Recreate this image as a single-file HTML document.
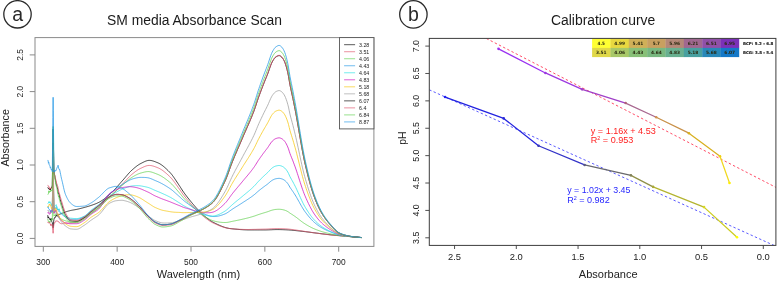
<!DOCTYPE html>
<html lang="en"><head><meta charset="utf-8"><title>Absorbance scan and calibration curve</title>
<style>html,body{margin:0;padding:0;background:#fff}body{width:777px;height:281px;overflow:hidden}</style></head>
<body>
<svg width="777" height="281" viewBox="0 0 777 281" style="display:block">
<rect x="0" y="0" width="777" height="281" fill="#ffffff"/>
<defs><clipPath id="ca"><rect x="35.0" y="37.6" width="338.9" height="208.8"/></clipPath><clipPath id="cb"><rect x="429.3" y="38.4" width="346.6" height="207"/></clipPath></defs>
<circle cx="17.5" cy="14.3" r="13.7" fill="none" stroke="#2a2a2a" stroke-width="1.3"/>
<text x="17.7" y="21.4" font-family="&quot;Liberation Sans&quot;, sans-serif" font-size="19.5" fill="#2a2a2a" text-anchor="middle">a</text>
<circle cx="413.4" cy="14.4" r="13.7" fill="none" stroke="#2a2a2a" stroke-width="1.3"/>
<text x="413.5" y="21.3" font-family="&quot;Liberation Sans&quot;, sans-serif" font-size="19.5" fill="#2a2a2a" text-anchor="middle">b</text>
<text x="107" y="25" font-family="&quot;Liberation Sans&quot;, sans-serif" font-size="14" fill="#1a1a1a" textLength="175" lengthAdjust="spacingAndGlyphs">SM media Absorbance Scan</text>
<text x="551" y="25" font-family="&quot;Liberation Sans&quot;, sans-serif" font-size="14" fill="#1a1a1a" textLength="104.2" lengthAdjust="spacingAndGlyphs">Calibration curve</text>
<g clip-path="url(#ca)">
<path d="M47.73,215.18 L48.10,218.25 L48.47,216.87 L48.84,217.81 L49.21,218.11 L49.58,218.34 L49.95,219.77 L50.32,219.29 L50.68,220.24 L51.05,218.35 L51.42,220.74 L51.79,221.66 L52.16,222.19 L52.31,222.64 L52.53,224.47 L52.90,226.75 L53.12,227.84 L53.27,226.66 L53.64,221.96 L53.93,219.43 L54.01,219.19 L54.38,217.73 L54.75,217.75 L55.12,217.81 L55.49,217.05 L55.85,216.06 L56.22,215.00 L56.59,216.05 L56.96,215.79 L57.33,214.81 L57.70,215.68 L58.07,215.08 L58.44,214.25 L58.81,214.28 L59.18,214.42 L59.55,214.27 L59.92,214.13 L60.29,213.99 L60.65,213.86 L61.02,213.72 L61.39,213.59 L61.76,213.44 L62.13,213.30 L62.50,213.14 L62.87,212.99 L63.24,212.83 L63.61,212.68 L63.98,212.53 L64.35,212.38 L64.72,212.24 L65.09,212.10 L65.45,211.98 L65.82,211.85 L66.19,211.73 L66.56,211.62 L66.93,211.50 L67.30,211.39 L67.67,211.28 L68.04,211.17 L68.41,211.07 L68.78,210.97 L69.15,210.87 L69.52,210.77 L69.89,210.68 L70.26,210.59 L70.62,210.51 L70.99,210.43 L71.36,210.35 L71.73,210.28 L72.10,210.21 L72.47,210.14 L72.84,210.07 L73.58,209.95 L74.32,209.82 L75.06,209.69 L75.79,209.56 L76.53,209.41 L77.27,209.25 L78.01,209.08 L78.75,208.91 L79.49,208.73 L80.22,208.54 L80.96,208.36 L81.70,208.16 L82.44,207.97 L83.18,207.77 L83.92,207.57 L84.66,207.37 L85.39,207.17 L86.13,206.96 L86.87,206.75 L87.61,206.54 L88.35,206.32 L89.09,206.09 L89.83,205.86 L90.56,205.62 L91.30,205.37 L92.04,205.12 L92.78,204.86 L93.52,204.60 L94.26,204.33 L95.00,204.05 L95.73,203.76 L96.47,203.46 L97.21,203.13 L97.95,202.79 L98.69,202.43 L99.43,202.05 L100.16,201.63 L100.90,201.19 L101.64,200.72 L102.38,200.24 L103.12,199.72 L103.86,199.19 L104.60,198.64 L105.33,198.07 L106.07,197.49 L106.81,196.89 L107.55,196.29 L108.29,195.67 L109.03,195.04 L109.77,194.40 L110.50,193.74 L111.24,193.03 L111.98,192.29 L112.72,191.52 L113.46,190.74 L114.20,189.96 L114.93,189.16 L115.67,188.36 L116.41,187.54 L117.15,186.71 L117.89,185.88 L118.63,185.03 L119.37,184.18 L120.10,183.33 L120.84,182.48 L121.58,181.64 L122.32,180.80 L123.06,179.97 L123.80,179.13 L124.53,178.27 L125.27,177.41 L126.01,176.53 L126.75,175.66 L127.49,174.80 L128.23,173.95 L128.97,173.12 L129.70,172.31 L130.44,171.54 L131.18,170.81 L131.92,170.13 L132.66,169.47 L133.40,168.83 L134.14,168.19 L134.87,167.57 L135.61,166.97 L136.35,166.39 L137.09,165.83 L137.83,165.30 L138.57,164.80 L139.31,164.34 L140.04,163.91 L140.78,163.52 L141.52,163.15 L142.26,162.77 L143.00,162.39 L143.74,162.02 L144.47,161.67 L145.21,161.34 L145.95,161.05 L146.69,160.80 L147.43,160.60 L148.17,160.45 L148.91,160.38 L149.64,160.38 L150.38,160.43 L151.12,160.53 L151.86,160.68 L152.60,160.87 L153.34,161.09 L154.07,161.33 L154.81,161.60 L155.55,161.89 L156.29,162.19 L157.03,162.49 L157.77,162.79 L158.51,163.12 L159.24,163.49 L159.98,163.90 L160.72,164.36 L161.46,164.85 L162.20,165.38 L162.94,165.94 L163.68,166.54 L164.41,167.16 L165.15,167.81 L165.89,168.48 L166.63,169.17 L167.37,169.88 L168.11,170.61 L168.84,171.35 L169.58,172.10 L170.32,172.87 L171.06,173.69 L171.80,174.59 L172.54,175.55 L173.28,176.56 L174.01,177.61 L174.75,178.70 L175.49,179.80 L176.23,180.92 L176.97,182.04 L177.71,183.16 L178.45,184.27 L179.18,185.36 L179.92,186.49 L180.66,187.64 L181.40,188.81 L182.14,189.96 L182.88,191.08 L183.62,192.15 L184.35,193.18 L185.09,194.19 L185.83,195.18 L186.57,196.15 L187.31,197.11 L188.05,198.05 L188.78,198.97 L189.52,199.89 L190.26,200.80 L191.00,201.70 L191.74,202.59 L192.48,203.48 L193.22,204.35 L193.95,205.22 L194.69,206.08 L195.43,206.93 L196.17,207.76 L196.91,208.57 L197.65,209.36 L198.38,210.14 L199.12,210.90 L199.86,211.65 L200.60,212.39 L201.34,213.12 L202.08,213.84 L202.82,214.54 L203.55,215.22 L204.29,215.87 L205.03,216.50 L205.77,217.11 L206.51,217.70 L207.25,218.28 L207.99,218.85 L208.72,219.41 L209.46,219.95 L210.20,220.47 L210.94,220.96 L211.68,221.43 L212.42,221.86 L213.16,222.25 L213.89,222.62 L214.63,222.99 L215.37,223.36 L216.11,223.72 L216.85,224.08 L217.59,224.43 L218.32,224.78 L219.06,225.11 L219.80,225.44 L220.54,225.76 L221.28,226.07 L222.02,226.37 L222.76,226.65 L223.49,226.92 L224.23,227.17 L224.97,227.41 L225.71,227.64 L226.45,227.84 L227.19,228.03 L227.93,228.19 L228.66,228.34 L229.40,228.46 L230.14,228.56 L230.88,228.65 L231.62,228.73 L232.36,228.82 L233.09,228.90 L233.83,228.98 L234.57,229.05 L235.31,229.13 L236.05,229.20 L236.79,229.27 L237.53,229.34 L238.26,229.40 L239.00,229.47 L239.74,229.52 L240.48,229.58 L241.22,229.63 L241.96,229.68 L242.69,229.73 L243.43,229.77 L244.17,229.80 L244.91,229.84 L245.65,229.87 L246.39,229.89 L247.13,229.91 L247.86,229.93 L248.60,229.94 L249.34,229.95 L250.08,229.95 L250.82,229.95 L251.56,229.95 L252.30,229.95 L253.03,229.95 L253.77,229.95 L254.51,229.95 L255.25,229.95 L255.99,229.95 L256.73,229.95 L257.47,229.95 L258.20,229.95 L258.94,229.95 L259.68,229.95 L260.42,229.95 L261.16,229.95 L261.90,229.95 L262.63,229.95 L263.37,229.95 L264.11,229.95 L264.85,229.95 L265.59,229.94 L266.33,229.93 L267.07,229.92 L267.80,229.89 L268.54,229.87 L269.28,229.84 L270.02,229.81 L270.76,229.78 L271.50,229.75 L272.24,229.71 L272.97,229.68 L273.71,229.65 L274.45,229.63 L275.19,229.61 L275.93,229.59 L276.67,229.58 L277.40,229.58 L278.14,229.58 L278.88,229.59 L279.62,229.60 L280.36,229.62 L281.10,229.64 L281.84,229.66 L282.57,229.68 L283.31,229.71 L284.05,229.74 L284.79,229.77 L285.53,229.81 L286.27,229.84 L287.00,229.87 L287.74,229.91 L288.48,229.95 L289.22,230.00 L289.96,230.05 L290.70,230.11 L291.44,230.17 L292.17,230.24 L292.91,230.31 L293.65,230.38 L294.39,230.46 L295.13,230.53 L295.87,230.61 L296.61,230.70 L297.34,230.78 L298.08,230.86 L298.82,230.94 L299.56,231.03 L300.30,231.11 L301.04,231.19 L301.78,231.27 L302.51,231.35 L303.25,231.44 L303.99,231.52 L304.73,231.61 L305.47,231.70 L306.21,231.79 L306.94,231.88 L307.68,231.98 L308.42,232.07 L309.16,232.17 L309.90,232.26 L310.64,232.36 L311.38,232.45 L312.11,232.55 L312.85,232.65 L313.59,232.74 L314.33,232.84 L315.07,232.93 L315.81,233.02 L316.55,233.11 L317.28,233.20 L318.02,233.29 L318.76,233.39 L319.50,233.48 L320.24,233.57 L320.98,233.66 L321.71,233.75 L322.45,233.85 L323.19,233.94 L323.93,234.03 L324.67,234.12 L325.41,234.21 L326.15,234.30 L326.88,234.39 L327.62,234.47 L328.36,234.56 L329.10,234.64 L329.84,234.72 L330.58,234.80 L331.32,234.88 L332.05,234.95 L332.79,235.02 L333.53,235.10 L334.27,235.17 L335.01,235.23 L335.75,235.30 L336.48,235.37 L337.22,235.43 L337.96,235.50 L338.70,235.56 L339.44,235.63 L340.18,235.69 L340.92,235.75 L341.65,235.82 L342.39,235.88 L343.13,235.94 L343.87,236.01 L344.61,236.07 L345.35,236.13 L346.09,236.20 L346.82,236.26 L347.56,236.33 L348.30,236.39 L349.04,236.45 L349.78,236.52 L350.52,236.58 L351.25,236.65 L351.99,236.71 L352.73,236.77 L353.47,236.84 L354.21,236.90 L354.95,236.96 L355.69,237.02 L356.42,237.09 L357.16,237.15 L357.90,237.21 L358.64,237.27 L359.38,237.33 L360.12,237.40 L360.86,237.46 L361.59,237.52" fill="none" stroke="#000000" stroke-width="0.75" stroke-linejoin="round"/>
<path d="M47.73,221.83 L48.10,222.91 L48.47,222.79 L48.84,223.06 L49.21,222.21 L49.58,221.96 L49.95,223.78 L50.32,223.94 L50.68,225.52 L51.05,224.28 L51.42,224.64 L51.79,225.50 L52.16,224.63 L52.31,226.11 L52.53,227.32 L52.90,230.44 L53.12,233.26 L53.27,230.42 L53.64,226.30 L53.93,224.53 L54.01,224.43 L54.38,222.69 L54.75,222.50 L55.12,222.62 L55.49,221.52 L55.85,220.85 L56.22,221.11 L56.59,220.79 L56.96,221.29 L57.33,220.72 L57.70,221.20 L58.07,221.85 L58.44,221.77 L58.81,221.77 L59.18,222.28 L59.55,223.04 L59.92,223.22 L60.29,223.38 L60.65,223.52 L61.02,223.63 L61.39,223.70 L61.76,223.72 L62.13,223.70 L62.50,223.64 L62.87,223.56 L63.24,223.46 L63.61,223.35 L63.98,223.24 L64.35,223.14 L64.72,223.06 L65.09,223.01 L65.45,222.99 L65.82,222.99 L66.19,222.99 L66.56,222.99 L66.93,222.99 L67.30,222.99 L67.67,222.99 L68.04,222.99 L68.41,222.99 L68.78,222.99 L69.15,222.99 L69.52,222.99 L69.89,222.99 L70.26,222.99 L70.62,222.99 L70.99,222.98 L71.36,222.97 L71.73,222.95 L72.10,222.93 L72.47,222.89 L72.84,222.85 L73.58,222.76 L74.32,222.65 L75.06,222.53 L75.79,222.39 L76.53,222.25 L77.27,222.07 L78.01,221.83 L78.75,221.53 L79.49,221.18 L80.22,220.79 L80.96,220.37 L81.70,219.93 L82.44,219.48 L83.18,219.03 L83.92,218.58 L84.66,218.12 L85.39,217.62 L86.13,217.09 L86.87,216.54 L87.61,215.97 L88.35,215.38 L89.09,214.80 L89.83,214.21 L90.56,213.64 L91.30,213.08 L92.04,212.53 L92.78,212.00 L93.52,211.47 L94.26,210.94 L95.00,210.40 L95.73,209.87 L96.47,209.32 L97.21,208.76 L97.95,208.17 L98.69,207.57 L99.43,206.95 L100.16,206.30 L100.90,205.63 L101.64,204.94 L102.38,204.24 L103.12,203.53 L103.86,202.80 L104.60,202.07 L105.33,201.34 L106.07,200.60 L106.81,199.86 L107.55,199.12 L108.29,198.38 L109.03,197.65 L109.77,196.93 L110.50,196.23 L111.24,195.53 L111.98,194.83 L112.72,194.14 L113.46,193.44 L114.20,192.73 L114.93,192.01 L115.67,191.28 L116.41,190.52 L117.15,189.75 L117.89,188.97 L118.63,188.19 L119.37,187.40 L120.10,186.61 L120.84,185.81 L121.58,185.03 L122.32,184.25 L123.06,183.48 L123.80,182.70 L124.53,181.91 L125.27,181.10 L126.01,180.29 L126.75,179.48 L127.49,178.68 L128.23,177.90 L128.97,177.13 L129.70,176.38 L130.44,175.67 L131.18,175.00 L131.92,174.36 L132.66,173.76 L133.40,173.16 L134.14,172.58 L134.87,172.00 L135.61,171.45 L136.35,170.91 L137.09,170.40 L137.83,169.92 L138.57,169.46 L139.31,169.03 L140.04,168.64 L140.78,168.29 L141.52,167.95 L142.26,167.60 L143.00,167.26 L143.74,166.92 L144.47,166.60 L145.21,166.30 L145.95,166.03 L146.69,165.81 L147.43,165.63 L148.17,165.50 L148.91,165.44 L149.64,165.44 L150.38,165.50 L151.12,165.60 L151.86,165.74 L152.60,165.92 L153.34,166.13 L154.07,166.37 L154.81,166.62 L155.55,166.89 L156.29,167.17 L157.03,167.46 L157.77,167.75 L158.51,168.05 L159.24,168.40 L159.98,168.79 L160.72,169.22 L161.46,169.68 L162.20,170.17 L162.94,170.70 L163.68,171.25 L164.41,171.83 L165.15,172.44 L165.89,173.06 L166.63,173.71 L167.37,174.37 L168.11,175.05 L168.84,175.74 L169.58,176.44 L170.32,177.15 L171.06,177.92 L171.80,178.76 L172.54,179.65 L173.28,180.59 L174.01,181.57 L174.75,182.57 L175.49,183.60 L176.23,184.64 L176.97,185.69 L177.71,186.73 L178.45,187.76 L179.18,188.77 L179.92,189.82 L180.66,190.89 L181.40,191.98 L182.14,193.05 L182.88,194.09 L183.62,195.09 L184.35,196.04 L185.09,196.98 L185.83,197.90 L186.57,198.80 L187.31,199.69 L188.05,200.56 L188.78,201.42 L189.52,202.28 L190.26,203.12 L191.00,203.95 L191.74,204.78 L192.48,205.61 L193.22,206.43 L193.95,207.23 L194.69,208.03 L195.43,208.82 L196.17,209.59 L196.91,210.34 L197.65,211.08 L198.38,211.80 L199.12,212.51 L199.86,213.20 L200.60,213.89 L201.34,214.57 L202.08,215.24 L202.82,215.88 L203.55,216.51 L204.29,217.12 L205.03,217.71 L205.77,218.27 L206.51,218.82 L207.25,219.36 L207.99,219.88 L208.72,220.40 L209.46,220.90 L210.20,221.38 L210.94,221.83 L211.68,222.26 L212.42,222.65 L213.16,223.01 L213.89,223.35 L214.63,223.69 L215.37,224.02 L216.11,224.35 L216.85,224.68 L217.59,225.00 L218.32,225.31 L219.06,225.61 L219.80,225.90 L220.54,226.19 L221.28,226.46 L222.02,226.73 L222.76,226.98 L223.49,227.21 L224.23,227.44 L224.97,227.65 L225.71,227.84 L226.45,228.01 L227.19,228.17 L227.93,228.31 L228.66,228.42 L229.40,228.52 L230.14,228.59 L230.88,228.66 L231.62,228.72 L232.36,228.78 L233.09,228.84 L233.83,228.90 L234.57,228.96 L235.31,229.01 L236.05,229.06 L236.79,229.11 L237.53,229.16 L238.26,229.21 L239.00,229.25 L239.74,229.29 L240.48,229.33 L241.22,229.36 L241.96,229.39 L242.69,229.41 L243.43,229.44 L244.17,229.46 L244.91,229.47 L245.65,229.49 L246.39,229.49 L247.13,229.50 L247.86,229.50 L248.60,229.50 L249.34,229.49 L250.08,229.47 L250.82,229.46 L251.56,229.44 L252.30,229.43 L253.03,229.41 L253.77,229.39 L254.51,229.37 L255.25,229.36 L255.99,229.34 L256.73,229.32 L257.47,229.29 L258.20,229.28 L258.94,229.26 L259.68,229.24 L260.42,229.22 L261.16,229.20 L261.90,229.19 L262.63,229.17 L263.37,229.15 L264.11,229.14 L264.85,229.12 L265.59,229.10 L266.33,229.07 L267.07,229.04 L267.80,229.01 L268.54,228.96 L269.28,228.92 L270.02,228.87 L270.76,228.82 L271.50,228.78 L272.24,228.73 L272.97,228.69 L273.71,228.66 L274.45,228.62 L275.19,228.60 L275.93,228.58 L276.67,228.56 L277.40,228.56 L278.14,228.55 L278.88,228.56 L279.62,228.57 L280.36,228.59 L281.10,228.61 L281.84,228.64 L282.57,228.67 L283.31,228.71 L284.05,228.75 L284.79,228.79 L285.53,228.84 L286.27,228.89 L287.00,228.95 L287.74,229.01 L288.48,229.08 L289.22,229.17 L289.96,229.25 L290.70,229.34 L291.44,229.43 L292.17,229.52 L292.91,229.61 L293.65,229.71 L294.39,229.82 L295.13,229.92 L295.87,230.03 L296.61,230.14 L297.34,230.26 L298.08,230.37 L298.82,230.49 L299.56,230.60 L300.30,230.72 L301.04,230.83 L301.78,230.95 L302.51,231.06 L303.25,231.17 L303.99,231.28 L304.73,231.39 L305.47,231.50 L306.21,231.62 L306.94,231.73 L307.68,231.84 L308.42,231.96 L309.16,232.07 L309.90,232.18 L310.64,232.30 L311.38,232.41 L312.11,232.52 L312.85,232.63 L313.59,232.74 L314.33,232.84 L315.07,232.95 L315.81,233.05 L316.55,233.15 L317.28,233.25 L318.02,233.35 L318.76,233.45 L319.50,233.55 L320.24,233.65 L320.98,233.75 L321.71,233.84 L322.45,233.94 L323.19,234.04 L323.93,234.13 L324.67,234.23 L325.41,234.32 L326.15,234.41 L326.88,234.50 L327.62,234.59 L328.36,234.67 L329.10,234.76 L329.84,234.84 L330.58,234.92 L331.32,235.00 L332.05,235.08 L332.79,235.15 L333.53,235.23 L334.27,235.30 L335.01,235.37 L335.75,235.44 L336.48,235.51 L337.22,235.58 L337.96,235.64 L338.70,235.71 L339.44,235.77 L340.18,235.83 L340.92,235.89 L341.65,235.95 L342.39,236.01 L343.13,236.08 L343.87,236.14 L344.61,236.20 L345.35,236.26 L346.09,236.32 L346.82,236.38 L347.56,236.44 L348.30,236.50 L349.04,236.56 L349.78,236.63 L350.52,236.69 L351.25,236.75 L351.99,236.81 L352.73,236.87 L353.47,236.93 L354.21,236.99 L354.95,237.04 L355.69,237.10 L356.42,237.16 L357.16,237.22 L357.90,237.28 L358.64,237.34 L359.38,237.40 L360.12,237.46 L360.86,237.51 L361.59,237.57" fill="none" stroke="#DF536B" stroke-width="0.75" stroke-linejoin="round"/>
<path d="M47.73,218.99 L48.10,220.30 L48.47,221.33 L48.84,221.80 L49.21,221.19 L49.58,222.34 L49.95,222.56 L50.32,221.81 L50.68,221.25 L51.05,220.78 L51.42,220.31 L51.79,219.16 L52.16,218.46 L52.31,220.25 L52.53,206.95 L52.90,190.37 L53.12,178.91 L53.27,186.75 L53.64,202.80 L53.93,216.21 L54.01,216.19 L54.38,215.33 L54.75,215.03 L55.12,215.57 L55.49,214.63 L55.85,213.71 L56.22,214.10 L56.59,215.07 L56.96,215.40 L57.33,215.69 L57.70,216.62 L58.07,217.09 L58.44,215.71 L58.81,217.16 L59.18,217.16 L59.55,217.70 L59.92,218.01 L60.29,218.32 L60.65,218.60 L61.02,218.87 L61.39,219.10 L61.76,219.32 L62.13,219.51 L62.50,219.69 L62.87,219.86 L63.24,220.01 L63.61,220.16 L63.98,220.31 L64.35,220.44 L64.72,220.56 L65.09,220.68 L65.45,220.78 L65.82,220.89 L66.19,221.00 L66.56,221.11 L66.93,221.21 L67.30,221.32 L67.67,221.42 L68.04,221.52 L68.41,221.60 L68.78,221.68 L69.15,221.75 L69.52,221.81 L69.89,221.85 L70.26,221.88 L70.62,221.88 L70.99,221.88 L71.36,221.88 L71.73,221.87 L72.10,221.86 L72.47,221.84 L72.84,221.82 L73.58,221.78 L74.32,221.73 L75.06,221.66 L75.79,221.59 L76.53,221.52 L77.27,221.39 L78.01,221.18 L78.75,220.89 L79.49,220.53 L80.22,220.13 L80.96,219.70 L81.70,219.24 L82.44,218.77 L83.18,218.30 L83.92,217.85 L84.66,217.39 L85.39,216.89 L86.13,216.36 L86.87,215.80 L87.61,215.23 L88.35,214.65 L89.09,214.06 L89.83,213.48 L90.56,212.90 L91.30,212.34 L92.04,211.80 L92.78,211.26 L93.52,210.73 L94.26,210.20 L95.00,209.67 L95.73,209.13 L96.47,208.58 L97.21,208.02 L97.95,207.44 L98.69,206.84 L99.43,206.21 L100.16,205.57 L100.90,204.90 L101.64,204.22 L102.38,203.52 L103.12,202.81 L103.86,202.09 L104.60,201.36 L105.33,200.64 L106.07,199.91 L106.81,199.19 L107.55,198.47 L108.29,197.76 L109.03,197.07 L109.77,196.39 L110.50,195.73 L111.24,195.08 L111.98,194.44 L112.72,193.81 L113.46,193.17 L114.20,192.53 L114.93,191.89 L115.67,191.24 L116.41,190.58 L117.15,189.92 L117.89,189.25 L118.63,188.58 L119.37,187.91 L120.10,187.23 L120.84,186.56 L121.58,185.90 L122.32,185.25 L123.06,184.62 L123.80,183.98 L124.53,183.34 L125.27,182.69 L126.01,182.03 L126.75,181.38 L127.49,180.74 L128.23,180.11 L128.97,179.50 L129.70,178.91 L130.44,178.36 L131.18,177.84 L131.92,177.36 L132.66,176.90 L133.40,176.46 L134.14,176.03 L134.87,175.61 L135.61,175.21 L136.35,174.83 L137.09,174.46 L137.83,174.12 L138.57,173.81 L139.31,173.52 L140.04,173.27 L140.78,173.05 L141.52,172.85 L142.26,172.65 L143.00,172.45 L143.74,172.25 L144.47,172.07 L145.21,171.91 L145.95,171.77 L146.69,171.66 L147.43,171.60 L148.17,171.57 L148.91,171.59 L149.64,171.68 L150.38,171.81 L151.12,171.98 L151.86,172.19 L152.60,172.42 L153.34,172.67 L154.07,172.94 L154.81,173.22 L155.55,173.50 L156.29,173.79 L157.03,174.08 L157.77,174.37 L158.51,174.68 L159.24,175.02 L159.98,175.39 L160.72,175.79 L161.46,176.22 L162.20,176.67 L162.94,177.13 L163.68,177.62 L164.41,178.13 L165.15,178.66 L165.89,179.21 L166.63,179.77 L167.37,180.35 L168.11,180.93 L168.84,181.53 L169.58,182.14 L170.32,182.76 L171.06,183.42 L171.80,184.14 L172.54,184.90 L173.28,185.70 L174.01,186.53 L174.75,187.39 L175.49,188.25 L176.23,189.13 L176.97,190.01 L177.71,190.89 L178.45,191.75 L179.18,192.60 L179.92,193.49 L180.66,194.40 L181.40,195.31 L182.14,196.22 L182.88,197.10 L183.62,197.93 L184.35,198.73 L185.09,199.52 L185.83,200.28 L186.57,201.03 L187.31,201.77 L188.05,202.50 L188.78,203.22 L189.52,203.93 L190.26,204.64 L191.00,205.34 L191.74,206.03 L192.48,206.72 L193.22,207.41 L193.95,208.09 L194.69,208.76 L195.43,209.41 L196.17,210.06 L196.91,210.69 L197.65,211.30 L198.38,211.90 L199.12,212.48 L199.86,213.06 L200.60,213.63 L201.34,214.19 L202.08,214.74 L202.82,215.27 L203.55,215.78 L204.29,216.27 L205.03,216.74 L205.77,217.19 L206.51,217.62 L207.25,218.05 L207.99,218.46 L208.72,218.86 L209.46,219.24 L210.20,219.61 L210.94,219.94 L211.68,220.25 L212.42,220.52 L213.16,220.76 L213.89,220.97 L214.63,221.17 L215.37,221.35 L216.11,221.52 L216.85,221.68 L217.59,221.82 L218.32,221.95 L219.06,222.07 L219.80,222.18 L220.54,222.27 L221.28,222.34 L222.02,222.41 L222.76,222.46 L223.49,222.49 L224.23,222.51 L224.97,222.52 L225.71,222.50 L226.45,222.46 L227.19,222.38 L227.93,222.28 L228.66,222.15 L229.40,222.01 L230.14,221.84 L230.88,221.67 L231.62,221.50 L232.36,221.35 L233.09,221.19 L233.83,221.04 L234.57,220.90 L235.31,220.75 L236.05,220.60 L236.79,220.45 L237.53,220.30 L238.26,220.15 L239.00,220.00 L239.74,219.84 L240.48,219.68 L241.22,219.52 L241.96,219.35 L242.69,219.18 L243.43,219.01 L244.17,218.84 L244.91,218.66 L245.65,218.48 L246.39,218.30 L247.13,218.12 L247.86,217.93 L248.60,217.74 L249.34,217.55 L250.08,217.34 L250.82,217.13 L251.56,216.92 L252.30,216.70 L253.03,216.47 L253.77,216.24 L254.51,216.01 L255.25,215.75 L255.99,215.48 L256.73,215.21 L257.47,214.94 L258.20,214.68 L258.94,214.43 L259.68,214.19 L260.42,213.95 L261.16,213.72 L261.90,213.48 L262.63,213.25 L263.37,213.02 L264.11,212.80 L264.85,212.58 L265.59,212.36 L266.33,212.14 L267.07,211.90 L267.80,211.66 L268.54,211.40 L269.28,211.12 L270.02,210.84 L270.76,210.57 L271.50,210.32 L272.24,210.11 L272.97,209.93 L273.71,209.77 L274.45,209.62 L275.19,209.50 L275.93,209.42 L276.67,209.36 L277.40,209.31 L278.14,209.27 L278.88,209.26 L279.62,209.27 L280.36,209.33 L281.10,209.42 L281.84,209.51 L282.57,209.64 L283.31,209.80 L284.05,209.99 L284.79,210.21 L285.53,210.47 L286.27,210.79 L287.00,211.15 L287.74,211.55 L288.48,212.00 L289.22,212.58 L289.96,213.14 L290.70,213.62 L291.44,214.07 L292.17,214.53 L292.91,215.00 L293.65,215.50 L294.39,216.00 L295.13,216.52 L295.87,217.05 L296.61,217.60 L297.34,218.17 L298.08,218.74 L298.82,219.32 L299.56,219.91 L300.30,220.49 L301.04,221.07 L301.78,221.63 L302.51,222.18 L303.25,222.71 L303.99,223.22 L304.73,223.70 L305.47,224.16 L306.21,224.61 L306.94,225.05 L307.68,225.48 L308.42,225.91 L309.16,226.32 L309.90,226.72 L310.64,227.12 L311.38,227.50 L312.11,227.86 L312.85,228.21 L313.59,228.55 L314.33,228.87 L315.07,229.18 L315.81,229.48 L316.55,229.77 L317.28,230.05 L318.02,230.32 L318.76,230.58 L319.50,230.84 L320.24,231.09 L320.98,231.32 L321.71,231.55 L322.45,231.78 L323.19,231.99 L323.93,232.20 L324.67,232.40 L325.41,232.60 L326.15,232.79 L326.88,232.98 L327.62,233.16 L328.36,233.34 L329.10,233.51 L329.84,233.68 L330.58,233.84 L331.32,234.00 L332.05,234.16 L332.79,234.31 L333.53,234.46 L334.27,234.61 L335.01,234.76 L335.75,234.90 L336.48,235.04 L337.22,235.17 L337.96,235.29 L338.70,235.40 L339.44,235.49 L340.18,235.59 L340.92,235.68 L341.65,235.76 L342.39,235.85 L343.13,235.93 L343.87,236.01 L344.61,236.08 L345.35,236.16 L346.09,236.24 L346.82,236.31 L347.56,236.38 L348.30,236.45 L349.04,236.52 L349.78,236.59 L350.52,236.66 L351.25,236.72 L351.99,236.79 L352.73,236.85 L353.47,236.92 L354.21,236.98 L354.95,237.04 L355.69,237.11 L356.42,237.17 L357.16,237.23 L357.90,237.29 L358.64,237.35 L359.38,237.40 L360.12,237.46 L360.86,237.52 L361.59,237.57" fill="none" stroke="#61D04F" stroke-width="0.75" stroke-linejoin="round"/>
<path d="M47.73,207.64 L48.10,206.62 L48.47,208.42 L48.84,208.90 L49.21,209.08 L49.58,210.09 L49.95,210.57 L50.32,210.52 L50.68,212.38 L51.05,210.38 L51.42,212.06 L51.79,212.30 L52.16,211.58 L52.31,211.97 L52.53,200.91 L52.90,180.37 L53.12,169.35 L53.27,176.43 L53.64,195.25 L53.93,209.54 L54.01,208.76 L54.38,208.64 L54.75,208.25 L55.12,207.61 L55.49,207.89 L55.85,207.97 L56.22,208.24 L56.59,207.60 L56.96,209.03 L57.33,209.35 L57.70,210.09 L58.07,210.37 L58.44,210.63 L58.81,211.26 L59.18,211.71 L59.55,212.10 L59.92,212.47 L60.29,212.82 L60.65,213.17 L61.02,213.51 L61.39,213.85 L61.76,214.18 L62.13,214.51 L62.50,214.83 L62.87,215.16 L63.24,215.48 L63.61,215.79 L63.98,216.09 L64.35,216.38 L64.72,216.65 L65.09,216.89 L65.45,217.11 L65.82,217.33 L66.19,217.54 L66.56,217.76 L66.93,217.98 L67.30,218.19 L67.67,218.39 L68.04,218.58 L68.41,218.76 L68.78,218.91 L69.15,219.05 L69.52,219.16 L69.89,219.25 L70.26,219.30 L70.62,219.32 L70.99,219.32 L71.36,219.32 L71.73,219.32 L72.10,219.32 L72.47,219.32 L72.84,219.32 L73.58,219.32 L74.32,219.32 L75.06,219.32 L75.79,219.32 L76.53,219.32 L77.27,219.28 L78.01,219.16 L78.75,218.99 L79.49,218.75 L80.22,218.48 L80.96,218.17 L81.70,217.83 L82.44,217.47 L83.18,217.11 L83.92,216.75 L84.66,216.34 L85.39,215.86 L86.13,215.31 L86.87,214.71 L87.61,214.07 L88.35,213.42 L89.09,212.75 L89.83,212.10 L90.56,211.47 L91.30,210.88 L92.04,210.32 L92.78,209.78 L93.52,209.25 L94.26,208.73 L95.00,208.21 L95.73,207.68 L96.47,207.14 L97.21,206.58 L97.95,205.99 L98.69,205.37 L99.43,204.70 L100.16,203.99 L100.90,203.24 L101.64,202.45 L102.38,201.64 L103.12,200.80 L103.86,199.96 L104.60,199.11 L105.33,198.26 L106.07,197.43 L106.81,196.61 L107.55,195.81 L108.29,195.05 L109.03,194.33 L109.77,193.65 L110.50,193.02 L111.24,192.41 L111.98,191.83 L112.72,191.26 L113.46,190.69 L114.20,190.14 L114.93,189.59 L115.67,189.04 L116.41,188.51 L117.15,187.97 L117.89,187.44 L118.63,186.92 L119.37,186.40 L120.10,185.88 L120.84,185.36 L121.58,184.86 L122.32,184.38 L123.06,183.92 L123.80,183.48 L124.53,183.03 L125.27,182.59 L126.01,182.14 L126.75,181.71 L127.49,181.28 L128.23,180.86 L128.97,180.46 L129.70,180.09 L130.44,179.75 L131.18,179.44 L131.92,179.17 L132.66,178.93 L133.40,178.70 L134.14,178.49 L134.87,178.29 L135.61,178.10 L136.35,177.93 L137.09,177.78 L137.83,177.65 L138.57,177.54 L139.31,177.46 L140.04,177.41 L140.78,177.39 L141.52,177.39 L142.26,177.40 L143.00,177.41 L143.74,177.42 L144.47,177.45 L145.21,177.49 L145.95,177.54 L146.69,177.61 L147.43,177.71 L148.17,177.83 L148.91,178.00 L149.64,178.21 L150.38,178.47 L151.12,178.75 L151.86,179.05 L152.60,179.37 L153.34,179.70 L154.07,180.04 L154.81,180.36 L155.55,180.68 L156.29,180.99 L157.03,181.30 L157.77,181.61 L158.51,181.93 L159.24,182.28 L159.98,182.64 L160.72,183.02 L161.46,183.41 L162.20,183.81 L162.94,184.22 L163.68,184.63 L164.41,185.05 L165.15,185.49 L165.89,185.94 L166.63,186.40 L167.37,186.87 L168.11,187.35 L168.84,187.83 L169.58,188.32 L170.32,188.82 L171.06,189.36 L171.80,189.93 L172.54,190.53 L173.28,191.15 L174.01,191.79 L174.75,192.44 L175.49,193.11 L176.23,193.77 L176.97,194.44 L177.71,195.10 L178.45,195.76 L179.18,196.40 L179.92,197.07 L180.66,197.77 L181.40,198.47 L182.14,199.16 L182.88,199.83 L183.62,200.46 L184.35,201.05 L185.09,201.64 L185.83,202.20 L186.57,202.76 L187.31,203.31 L188.05,203.84 L188.78,204.38 L189.52,204.90 L190.26,205.43 L191.00,205.95 L191.74,206.47 L192.48,206.99 L193.22,207.51 L193.95,208.02 L194.69,208.52 L195.43,209.01 L196.17,209.49 L196.91,209.96 L197.65,210.41 L198.38,210.85 L199.12,211.27 L199.86,211.69 L200.60,212.10 L201.34,212.51 L202.08,212.89 L202.82,213.27 L203.55,213.63 L204.29,213.96 L205.03,214.28 L205.77,214.57 L206.51,214.85 L207.25,215.12 L207.99,215.37 L208.72,215.62 L209.46,215.84 L210.20,216.04 L210.94,216.21 L211.68,216.34 L212.42,216.44 L213.16,216.50 L213.89,216.52 L214.63,216.52 L215.37,216.48 L216.11,216.41 L216.85,216.32 L217.59,216.21 L218.32,216.07 L219.06,215.91 L219.80,215.73 L220.54,215.52 L221.28,215.30 L222.02,215.06 L222.76,214.80 L223.49,214.53 L224.23,214.24 L224.97,213.94 L225.71,213.61 L226.45,213.22 L227.19,212.78 L227.93,212.31 L228.66,211.81 L229.40,211.28 L230.14,210.74 L230.88,210.20 L231.62,209.68 L232.36,209.18 L233.09,208.69 L233.83,208.22 L234.57,207.75 L235.31,207.28 L236.05,206.82 L236.79,206.36 L237.53,205.90 L238.26,205.44 L239.00,204.98 L239.74,204.52 L240.48,204.05 L241.22,203.59 L241.96,203.11 L242.69,202.63 L243.43,202.15 L244.17,201.67 L244.91,201.20 L245.65,200.72 L246.39,200.25 L247.13,199.77 L247.86,199.29 L248.60,198.80 L249.34,198.30 L250.08,197.79 L250.82,197.28 L251.56,196.75 L252.30,196.21 L253.03,195.66 L253.77,195.09 L254.51,194.51 L255.25,193.88 L255.99,193.21 L256.73,192.54 L257.47,191.87 L258.20,191.24 L258.94,190.63 L259.68,190.03 L260.42,189.44 L261.16,188.86 L261.90,188.29 L262.63,187.72 L263.37,187.16 L264.11,186.61 L264.85,186.07 L265.59,185.53 L266.33,184.99 L267.07,184.44 L267.80,183.88 L268.54,183.26 L269.28,182.61 L270.02,181.95 L270.76,181.33 L271.50,180.76 L272.24,180.28 L272.97,179.89 L273.71,179.52 L274.45,179.20 L275.19,178.94 L275.93,178.75 L276.67,178.61 L277.40,178.49 L278.14,178.40 L278.88,178.36 L279.62,178.38 L280.36,178.50 L281.10,178.69 L281.84,178.90 L282.57,179.16 L283.31,179.52 L284.05,179.95 L284.79,180.45 L285.53,181.07 L286.27,181.80 L287.00,182.64 L287.74,183.57 L288.48,184.64 L289.22,186.01 L289.96,187.29 L290.70,188.40 L291.44,189.45 L292.17,190.48 L292.91,191.55 L293.65,192.67 L294.39,193.81 L295.13,194.98 L295.87,196.18 L296.61,197.43 L297.34,198.72 L298.08,200.03 L298.82,201.35 L299.56,202.68 L300.30,204.01 L301.04,205.31 L301.78,206.59 L302.51,207.84 L303.25,209.03 L303.99,210.18 L304.73,211.25 L305.47,212.26 L306.21,213.25 L306.94,214.21 L307.68,215.15 L308.42,216.07 L309.16,216.96 L309.90,217.83 L310.64,218.67 L311.38,219.47 L312.11,220.24 L312.85,220.98 L313.59,221.68 L314.33,222.35 L315.07,222.98 L315.81,223.59 L316.55,224.19 L317.28,224.75 L318.02,225.30 L318.76,225.83 L319.50,226.34 L320.24,226.83 L320.98,227.29 L321.71,227.74 L322.45,228.16 L323.19,228.56 L323.93,228.96 L324.67,229.33 L325.41,229.70 L326.15,230.06 L326.88,230.40 L327.62,230.74 L328.36,231.06 L329.10,231.38 L329.84,231.68 L330.58,231.98 L331.32,232.27 L332.05,232.56 L332.79,232.83 L333.53,233.11 L334.27,233.38 L335.01,233.65 L335.75,233.92 L336.48,234.17 L337.22,234.40 L337.96,234.61 L338.70,234.79 L339.44,234.94 L340.18,235.09 L340.92,235.22 L341.65,235.35 L342.39,235.47 L343.13,235.59 L343.87,235.70 L344.61,235.81 L345.35,235.91 L346.09,236.01 L346.82,236.10 L347.56,236.20 L348.30,236.29 L349.04,236.37 L349.78,236.46 L350.52,236.54 L351.25,236.62 L351.99,236.69 L352.73,236.76 L353.47,236.84 L354.21,236.91 L354.95,236.98 L355.69,237.05 L356.42,237.12 L357.16,237.18 L357.90,237.25 L358.64,237.31 L359.38,237.37 L360.12,237.43 L360.86,237.49 L361.59,237.54" fill="none" stroke="#2297E6" stroke-width="0.75" stroke-linejoin="round"/>
<path d="M47.73,203.62 L48.10,203.00 L48.47,202.68 L48.84,201.64 L49.21,203.14 L49.58,202.46 L49.95,201.65 L50.32,202.32 L50.68,203.31 L51.05,204.22 L51.42,203.83 L51.79,205.77 L52.16,206.18 L52.31,205.27 L52.53,195.89 L52.90,181.05 L53.12,172.86 L53.27,179.26 L53.64,195.30 L53.93,208.25 L54.01,207.71 L54.38,206.16 L54.75,206.21 L55.12,206.22 L55.49,205.67 L55.85,205.34 L56.22,204.67 L56.59,207.30 L56.96,206.69 L57.33,208.43 L57.70,208.94 L58.07,209.93 L58.44,208.93 L58.81,209.98 L59.18,208.77 L59.55,211.06 L59.92,211.50 L60.29,211.93 L60.65,212.33 L61.02,212.71 L61.39,213.09 L61.76,213.44 L62.13,213.79 L62.50,214.14 L62.87,214.48 L63.24,214.81 L63.61,215.12 L63.98,215.42 L64.35,215.70 L64.72,215.95 L65.09,216.18 L65.45,216.38 L65.82,216.56 L66.19,216.74 L66.56,216.92 L66.93,217.09 L67.30,217.25 L67.67,217.41 L68.04,217.55 L68.41,217.69 L68.78,217.81 L69.15,217.92 L69.52,218.02 L69.89,218.10 L70.26,218.17 L70.62,218.22 L70.99,218.25 L71.36,218.29 L71.73,218.33 L72.10,218.36 L72.47,218.39 L72.84,218.42 L73.58,218.48 L74.32,218.52 L75.06,218.55 L75.79,218.57 L76.53,218.58 L77.27,218.55 L78.01,218.46 L78.75,218.31 L79.49,218.12 L80.22,217.89 L80.96,217.62 L81.70,217.33 L82.44,217.03 L83.18,216.71 L83.92,216.38 L84.66,215.99 L85.39,215.50 L86.13,214.92 L86.87,214.28 L87.61,213.58 L88.35,212.87 L89.09,212.14 L89.83,211.43 L90.56,210.76 L91.30,210.14 L92.04,209.56 L92.78,209.00 L93.52,208.44 L94.26,207.89 L95.00,207.35 L95.73,206.81 L96.47,206.27 L97.21,205.73 L97.95,205.18 L98.69,204.64 L99.43,204.08 L100.16,203.52 L100.90,202.95 L101.64,202.38 L102.38,201.81 L103.12,201.24 L103.86,200.67 L104.60,200.10 L105.33,199.54 L106.07,198.98 L106.81,198.43 L107.55,197.89 L108.29,197.36 L109.03,196.83 L109.77,196.32 L110.50,195.82 L111.24,195.32 L111.98,194.83 L112.72,194.34 L113.46,193.85 L114.20,193.38 L114.93,192.93 L115.67,192.50 L116.41,192.08 L117.15,191.67 L117.89,191.28 L118.63,190.89 L119.37,190.51 L120.10,190.14 L120.84,189.76 L121.58,189.40 L122.32,189.07 L123.06,188.77 L123.80,188.48 L124.53,188.20 L125.27,187.92 L126.01,187.65 L126.75,187.39 L127.49,187.13 L128.23,186.88 L128.97,186.64 L129.70,186.43 L130.44,186.26 L131.18,186.11 L131.92,186.00 L132.66,185.91 L133.40,185.83 L134.14,185.77 L134.87,185.72 L135.61,185.68 L136.35,185.66 L137.09,185.65 L137.83,185.66 L138.57,185.68 L139.31,185.73 L140.04,185.80 L140.78,185.91 L141.52,186.03 L142.26,186.16 L143.00,186.30 L143.74,186.44 L144.47,186.59 L145.21,186.74 L145.95,186.91 L146.69,187.08 L147.43,187.27 L148.17,187.47 L148.91,187.70 L149.64,187.97 L150.38,188.28 L151.12,188.60 L151.86,188.94 L152.60,189.28 L153.34,189.62 L154.07,189.96 L154.81,190.29 L155.55,190.59 L156.29,190.89 L157.03,191.18 L157.77,191.48 L158.51,191.77 L159.24,192.09 L159.98,192.41 L160.72,192.74 L161.46,193.07 L162.20,193.41 L162.94,193.73 L163.68,194.05 L164.41,194.38 L165.15,194.72 L165.89,195.07 L166.63,195.43 L167.37,195.79 L168.11,196.15 L168.84,196.52 L169.58,196.90 L170.32,197.28 L171.06,197.69 L171.80,198.11 L172.54,198.55 L173.28,199.00 L174.01,199.47 L174.75,199.94 L175.49,200.41 L176.23,200.89 L176.97,201.37 L177.71,201.83 L178.45,202.30 L179.18,202.75 L179.92,203.23 L180.66,203.73 L181.40,204.24 L182.14,204.73 L182.88,205.21 L183.62,205.65 L184.35,206.07 L185.09,206.47 L185.83,206.86 L186.57,207.25 L187.31,207.62 L188.05,208.00 L188.78,208.36 L189.52,208.73 L190.26,209.09 L191.00,209.46 L191.74,209.83 L192.48,210.19 L193.22,210.56 L193.95,210.91 L194.69,211.27 L195.43,211.61 L196.17,211.95 L196.91,212.27 L197.65,212.58 L198.38,212.88 L199.12,213.17 L199.86,213.45 L200.60,213.72 L201.34,213.99 L202.08,214.25 L202.82,214.49 L203.55,214.72 L204.29,214.93 L205.03,215.13 L205.77,215.29 L206.51,215.45 L207.25,215.60 L207.99,215.74 L208.72,215.86 L209.46,215.96 L210.20,216.05 L210.94,216.10 L211.68,216.12 L212.42,216.11 L213.16,216.05 L213.89,215.96 L214.63,215.82 L215.37,215.66 L216.11,215.46 L216.85,215.23 L217.59,214.97 L218.32,214.68 L219.06,214.37 L219.80,214.03 L220.54,213.67 L221.28,213.29 L222.02,212.88 L222.76,212.47 L223.49,212.04 L224.23,211.59 L224.97,211.13 L225.71,210.63 L226.45,210.08 L227.19,209.47 L227.93,208.82 L228.66,208.13 L229.40,207.43 L230.14,206.72 L230.88,206.01 L231.62,205.32 L232.36,204.66 L233.09,204.02 L233.83,203.40 L234.57,202.78 L235.31,202.16 L236.05,201.56 L236.79,200.95 L237.53,200.35 L238.26,199.75 L239.00,199.15 L239.74,198.55 L240.48,197.94 L241.22,197.34 L241.96,196.72 L242.69,196.10 L243.43,195.48 L244.17,194.86 L244.91,194.25 L245.65,193.65 L246.39,193.04 L247.13,192.43 L247.86,191.81 L248.60,191.19 L249.34,190.56 L250.08,189.92 L250.82,189.27 L251.56,188.60 L252.30,187.92 L253.03,187.23 L253.77,186.51 L254.51,185.77 L255.25,184.98 L255.99,184.14 L256.73,183.29 L257.47,182.45 L258.20,181.65 L258.94,180.88 L259.68,180.13 L260.42,179.38 L261.16,178.65 L261.90,177.93 L262.63,177.21 L263.37,176.51 L264.11,175.81 L264.85,175.12 L265.59,174.45 L266.33,173.77 L267.07,173.09 L267.80,172.38 L268.54,171.61 L269.28,170.79 L270.02,169.98 L270.76,169.20 L271.50,168.50 L272.24,167.90 L272.97,167.42 L273.71,166.96 L274.45,166.56 L275.19,166.24 L275.93,166.01 L276.67,165.83 L277.40,165.68 L278.14,165.57 L278.88,165.52 L279.62,165.54 L280.36,165.69 L281.10,165.91 L281.84,166.17 L282.57,166.50 L283.31,166.94 L284.05,167.48 L284.79,168.09 L285.53,168.86 L286.27,169.78 L287.00,170.83 L287.74,171.99 L288.48,173.32 L289.22,175.03 L289.96,176.64 L290.70,178.02 L291.44,179.32 L292.17,180.60 L292.91,181.93 L293.65,183.32 L294.39,184.73 L295.13,186.18 L295.87,187.67 L296.61,189.22 L297.34,190.82 L298.08,192.44 L298.82,194.09 L299.56,195.74 L300.30,197.38 L301.04,199.00 L301.78,200.59 L302.51,202.14 L303.25,203.62 L303.99,205.03 L304.73,206.37 L305.47,207.61 L306.21,208.82 L306.94,210.01 L307.68,211.16 L308.42,212.29 L309.16,213.39 L309.90,214.45 L310.64,215.47 L311.38,216.46 L312.11,217.40 L312.85,218.30 L313.59,219.16 L314.33,219.96 L315.07,220.73 L315.81,221.48 L316.55,222.19 L317.28,222.88 L318.02,223.54 L318.76,224.18 L319.50,224.79 L320.24,225.37 L320.98,225.93 L321.71,226.46 L322.45,226.97 L323.19,227.45 L323.93,227.91 L324.67,228.36 L325.41,228.79 L326.15,229.21 L326.88,229.62 L327.62,230.01 L328.36,230.40 L329.10,230.77 L329.84,231.13 L330.58,231.48 L331.32,231.82 L332.05,232.15 L332.79,232.48 L333.53,232.80 L334.27,233.12 L335.01,233.44 L335.75,233.76 L336.48,234.05 L337.22,234.33 L337.96,234.57 L338.70,234.77 L339.44,234.94 L340.18,235.10 L340.92,235.26 L341.65,235.40 L342.39,235.53 L343.13,235.66 L343.87,235.78 L344.61,235.89 L345.35,236.00 L346.09,236.10 L346.82,236.20 L347.56,236.30 L348.30,236.39 L349.04,236.48 L349.78,236.56 L350.52,236.65 L351.25,236.72 L351.99,236.80 L352.73,236.87 L353.47,236.94 L354.21,237.01 L354.95,237.08 L355.69,237.14 L356.42,237.21 L357.16,237.27 L357.90,237.33 L358.64,237.39 L359.38,237.45 L360.12,237.50 L360.86,237.56 L361.59,237.60" fill="none" stroke="#28E2E5" stroke-width="0.75" stroke-linejoin="round"/>
<path d="M47.73,212.51 L48.10,213.11 L48.47,212.50 L48.84,212.84 L49.21,214.18 L49.58,213.94 L49.95,213.83 L50.32,213.64 L50.68,212.87 L51.05,211.28 L51.42,210.73 L51.79,211.01 L52.16,209.71 L52.31,209.31 L52.53,197.12 L52.90,177.46 L53.12,164.24 L53.27,174.14 L53.64,195.56 L53.93,211.88 L54.01,213.27 L54.38,212.27 L54.75,211.01 L55.12,211.87 L55.49,211.31 L55.85,209.89 L56.22,211.24 L56.59,212.45 L56.96,213.32 L57.33,214.84 L57.70,215.24 L58.07,216.52 L58.44,215.37 L58.81,216.96 L59.18,217.92 L59.55,218.55 L59.92,219.00 L60.29,219.41 L60.65,219.80 L61.02,220.15 L61.39,220.48 L61.76,220.78 L62.13,221.08 L62.50,221.36 L62.87,221.64 L63.24,221.90 L63.61,222.14 L63.98,222.37 L64.35,222.57 L64.72,222.74 L65.09,222.88 L65.45,222.99 L65.82,223.07 L66.19,223.16 L66.56,223.24 L66.93,223.31 L67.30,223.38 L67.67,223.45 L68.04,223.51 L68.41,223.56 L68.78,223.61 L69.15,223.65 L69.52,223.68 L69.89,223.70 L70.26,223.72 L70.62,223.72 L70.99,223.72 L71.36,223.72 L71.73,223.72 L72.10,223.72 L72.47,223.72 L72.84,223.72 L73.58,223.72 L74.32,223.72 L75.06,223.72 L75.79,223.72 L76.53,223.72 L77.27,223.67 L78.01,223.51 L78.75,223.28 L79.49,222.97 L80.22,222.61 L80.96,222.20 L81.70,221.77 L82.44,221.31 L83.18,220.86 L83.92,220.42 L84.66,219.94 L85.39,219.40 L86.13,218.79 L86.87,218.14 L87.61,217.46 L88.35,216.77 L89.09,216.08 L89.83,215.41 L90.56,214.77 L91.30,214.18 L92.04,213.64 L92.78,213.14 L93.52,212.66 L94.26,212.20 L95.00,211.75 L95.73,211.28 L96.47,210.78 L97.21,210.26 L97.95,209.68 L98.69,209.04 L99.43,208.29 L100.16,207.40 L100.90,206.39 L101.64,205.28 L102.38,204.11 L103.12,202.88 L103.86,201.63 L104.60,200.37 L105.33,199.14 L106.07,197.94 L106.81,196.81 L107.55,195.76 L108.29,194.82 L109.03,194.02 L109.77,193.37 L110.50,192.83 L111.24,192.33 L111.98,191.87 L112.72,191.44 L113.46,191.03 L114.20,190.64 L114.93,190.28 L115.67,189.94 L116.41,189.63 L117.15,189.33 L117.89,189.05 L118.63,188.79 L119.37,188.53 L120.10,188.28 L120.84,188.04 L121.58,187.81 L122.32,187.62 L123.06,187.47 L123.80,187.34 L124.53,187.22 L125.27,187.12 L126.01,187.03 L126.75,186.94 L127.49,186.87 L128.23,186.79 L128.97,186.74 L129.70,186.71 L130.44,186.71 L131.18,186.75 L131.92,186.82 L132.66,186.91 L133.40,187.02 L134.14,187.14 L134.87,187.28 L135.61,187.43 L136.35,187.59 L137.09,187.76 L137.83,187.95 L138.57,188.16 L139.31,188.38 L140.04,188.62 L140.78,188.90 L141.52,189.21 L142.26,189.52 L143.00,189.84 L143.74,190.16 L144.47,190.49 L145.21,190.82 L145.95,191.15 L146.69,191.48 L147.43,191.82 L148.17,192.15 L148.91,192.50 L149.64,192.89 L150.38,193.30 L151.12,193.73 L151.86,194.15 L152.60,194.58 L153.34,195.00 L154.07,195.39 L154.81,195.77 L155.55,196.10 L156.29,196.42 L157.03,196.74 L157.77,197.06 L158.51,197.37 L159.24,197.69 L159.98,198.01 L160.72,198.33 L161.46,198.64 L162.20,198.93 L162.94,199.20 L163.68,199.46 L164.41,199.73 L165.15,199.99 L165.89,200.26 L166.63,200.53 L167.37,200.81 L168.11,201.08 L168.84,201.36 L169.58,201.64 L170.32,201.93 L171.06,202.23 L171.80,202.53 L172.54,202.83 L173.28,203.14 L174.01,203.45 L174.75,203.76 L175.49,204.06 L176.23,204.36 L176.97,204.66 L177.71,204.95 L178.45,205.24 L179.18,205.52 L179.92,205.82 L180.66,206.15 L181.40,206.48 L182.14,206.79 L182.88,207.09 L183.62,207.36 L184.35,207.61 L185.09,207.85 L185.83,208.07 L186.57,208.30 L187.31,208.51 L188.05,208.72 L188.78,208.93 L189.52,209.15 L190.26,209.36 L191.00,209.58 L191.74,209.80 L192.48,210.03 L193.22,210.25 L193.95,210.47 L194.69,210.68 L195.43,210.89 L196.17,211.09 L196.91,211.28 L197.65,211.45 L198.38,211.61 L199.12,211.77 L199.86,211.91 L200.60,212.06 L201.34,212.20 L202.08,212.32 L202.82,212.43 L203.55,212.53 L204.29,212.61 L205.03,212.67 L205.77,212.71 L206.51,212.73 L207.25,212.75 L207.99,212.75 L208.72,212.74 L209.46,212.71 L210.20,212.65 L210.94,212.56 L211.68,212.44 L212.42,212.28 L213.16,212.07 L213.89,211.81 L214.63,211.50 L215.37,211.14 L216.11,210.73 L216.85,210.28 L217.59,209.80 L218.32,209.27 L219.06,208.71 L219.80,208.12 L220.54,207.50 L221.28,206.86 L222.02,206.19 L222.76,205.50 L223.49,204.80 L224.23,204.08 L224.97,203.35 L225.71,202.57 L226.45,201.71 L227.19,200.78 L227.93,199.80 L228.66,198.79 L229.40,197.75 L230.14,196.70 L230.88,195.66 L231.62,194.65 L232.36,193.69 L233.09,192.76 L233.83,191.84 L234.57,190.94 L235.31,190.04 L236.05,189.16 L236.79,188.28 L237.53,187.40 L238.26,186.53 L239.00,185.65 L239.74,184.78 L240.48,183.90 L241.22,183.02 L241.96,182.13 L242.69,181.23 L243.43,180.34 L244.17,179.45 L244.91,178.57 L245.65,177.70 L246.39,176.83 L247.13,175.95 L247.86,175.08 L248.60,174.19 L249.34,173.29 L250.08,172.38 L250.82,171.46 L251.56,170.51 L252.30,169.55 L253.03,168.56 L253.77,167.54 L254.51,166.49 L255.25,165.37 L255.99,164.18 L256.73,162.97 L257.47,161.78 L258.20,160.64 L258.94,159.55 L259.68,158.48 L260.42,157.42 L261.16,156.38 L261.90,155.35 L262.63,154.34 L263.37,153.33 L264.11,152.34 L264.85,151.37 L265.59,150.42 L266.33,149.46 L267.07,148.49 L267.80,147.49 L268.54,146.40 L269.28,145.26 L270.02,144.11 L270.76,143.01 L271.50,142.02 L272.24,141.20 L272.97,140.51 L273.71,139.88 L274.45,139.32 L275.19,138.86 L275.93,138.54 L276.67,138.30 L277.40,138.09 L278.14,137.93 L278.88,137.85 L279.62,137.88 L280.36,138.08 L281.10,138.39 L281.84,138.75 L282.57,139.21 L283.31,139.83 L284.05,140.58 L284.79,141.44 L285.53,142.52 L286.27,143.82 L287.00,145.30 L287.74,146.94 L288.48,148.81 L289.22,151.22 L289.96,153.48 L290.70,155.43 L291.44,157.25 L292.17,159.05 L292.91,160.91 L293.65,162.86 L294.39,164.85 L295.13,166.87 L295.87,168.97 L296.61,171.14 L297.34,173.38 L298.08,175.66 L298.82,177.97 L299.56,180.28 L300.30,182.59 L301.04,184.87 L301.78,187.10 L302.51,189.26 L303.25,191.34 L303.99,193.32 L304.73,195.18 L305.47,196.92 L306.21,198.61 L306.94,200.26 L307.68,201.87 L308.42,203.44 L309.16,204.97 L309.90,206.44 L310.64,207.86 L311.38,209.23 L312.11,210.54 L312.85,211.78 L313.59,212.97 L314.33,214.08 L315.07,215.14 L315.81,216.17 L316.55,217.15 L317.28,218.10 L318.02,219.01 L318.76,219.88 L319.50,220.72 L320.24,221.52 L320.98,222.28 L321.71,223.00 L322.45,223.68 L323.19,224.34 L323.93,224.97 L324.67,225.57 L325.41,226.16 L326.15,226.73 L326.88,227.27 L327.62,227.81 L328.36,228.32 L329.10,228.82 L329.84,229.30 L330.58,229.77 L331.32,230.23 L332.05,230.68 L332.79,231.12 L333.53,231.56 L334.27,231.99 L335.01,232.42 L335.75,232.84 L336.48,233.24 L337.22,233.61 L337.96,233.93 L338.70,234.19 L339.44,234.42 L340.18,234.62 L340.92,234.82 L341.65,235.00 L342.39,235.17 L343.13,235.33 L343.87,235.47 L344.61,235.61 L345.35,235.75 L346.09,235.87 L346.82,235.99 L347.56,236.11 L348.30,236.22 L349.04,236.32 L349.78,236.42 L350.52,236.52 L351.25,236.60 L351.99,236.69 L352.73,236.77 L353.47,236.85 L354.21,236.93 L354.95,237.00 L355.69,237.08 L356.42,237.15 L357.16,237.22 L357.90,237.28 L358.64,237.35 L359.38,237.41 L360.12,237.46 L360.86,237.52 L361.59,237.57" fill="none" stroke="#CD0BBC" stroke-width="0.75" stroke-linejoin="round"/>
<path d="M47.73,206.39 L48.10,206.95 L48.47,206.33 L48.84,206.12 L49.21,204.17 L49.58,204.80 L49.95,204.26 L50.32,204.65 L50.68,206.13 L51.05,206.79 L51.42,208.38 L51.79,207.79 L52.16,208.61 L52.31,209.29 L52.53,194.30 L52.90,172.76 L53.12,157.41 L53.27,168.11 L53.64,191.99 L53.93,210.64 L54.01,209.64 L54.38,210.89 L54.75,210.50 L55.12,210.34 L55.49,208.10 L55.85,208.72 L56.22,209.77 L56.59,209.74 L56.96,211.83 L57.33,214.24 L57.70,214.24 L58.07,215.64 L58.44,214.20 L58.81,216.80 L59.18,216.27 L59.55,217.31 L59.92,217.81 L60.29,218.29 L60.65,218.75 L61.02,219.19 L61.39,219.62 L61.76,220.05 L62.13,220.48 L62.50,220.90 L62.87,221.32 L63.24,221.72 L63.61,222.11 L63.98,222.48 L64.35,222.83 L64.72,223.16 L65.09,223.45 L65.45,223.72 L65.82,223.97 L66.19,224.22 L66.56,224.46 L66.93,224.70 L67.30,224.94 L67.67,225.16 L68.04,225.37 L68.41,225.56 L68.78,225.74 L69.15,225.90 L69.52,226.03 L69.89,226.15 L70.26,226.23 L70.62,226.29 L70.99,226.33 L71.36,226.37 L71.73,226.41 L72.10,226.44 L72.47,226.47 L72.84,226.50 L73.58,226.56 L74.32,226.60 L75.06,226.63 L75.79,226.65 L76.53,226.66 L77.27,226.59 L78.01,226.42 L78.75,226.15 L79.49,225.80 L80.22,225.39 L80.96,224.93 L81.70,224.44 L82.44,223.95 L83.18,223.45 L83.92,222.99 L84.66,222.50 L85.39,221.96 L86.13,221.38 L86.87,220.77 L87.61,220.13 L88.35,219.49 L89.09,218.86 L89.83,218.24 L90.56,217.66 L91.30,217.11 L92.04,216.62 L92.78,216.15 L93.52,215.71 L94.26,215.28 L95.00,214.86 L95.73,214.43 L96.47,213.99 L97.21,213.52 L97.95,213.03 L98.69,212.49 L99.43,211.89 L100.16,211.22 L100.90,210.50 L101.64,209.73 L102.38,208.92 L103.12,208.09 L103.86,207.24 L104.60,206.40 L105.33,205.56 L106.07,204.74 L106.81,203.95 L107.55,203.21 L108.29,202.52 L109.03,201.89 L109.77,201.33 L110.50,200.84 L111.24,200.37 L111.98,199.92 L112.72,199.48 L113.46,199.06 L114.20,198.66 L114.93,198.28 L115.67,197.93 L116.41,197.60 L117.15,197.30 L117.89,197.00 L118.63,196.72 L119.37,196.44 L120.10,196.17 L120.84,195.89 L121.58,195.64 L122.32,195.43 L123.06,195.26 L123.80,195.12 L124.53,195.01 L125.27,194.93 L126.01,194.86 L126.75,194.80 L127.49,194.76 L128.23,194.72 L128.97,194.71 L129.70,194.73 L130.44,194.79 L131.18,194.89 L131.92,195.02 L132.66,195.19 L133.40,195.37 L134.14,195.58 L134.87,195.82 L135.61,196.07 L136.35,196.34 L137.09,196.63 L137.83,196.94 L138.57,197.26 L139.31,197.60 L140.04,197.97 L140.78,198.39 L141.52,198.83 L142.26,199.29 L143.00,199.76 L143.74,200.25 L144.47,200.74 L145.21,201.23 L145.95,201.71 L146.69,202.19 L147.43,202.66 L148.17,203.11 L148.91,203.57 L149.64,204.05 L150.38,204.55 L151.12,205.05 L151.86,205.55 L152.60,206.03 L153.34,206.49 L154.07,206.92 L154.81,207.31 L155.55,207.65 L156.29,207.96 L157.03,208.28 L157.77,208.59 L158.51,208.89 L159.24,209.19 L159.98,209.47 L160.72,209.74 L161.46,209.98 L162.20,210.19 L162.94,210.36 L163.68,210.51 L164.41,210.66 L165.15,210.80 L165.89,210.93 L166.63,211.07 L167.37,211.20 L168.11,211.33 L168.84,211.45 L169.58,211.58 L170.32,211.71 L171.06,211.83 L171.80,211.94 L172.54,212.03 L173.28,212.11 L174.01,212.18 L174.75,212.24 L175.49,212.28 L176.23,212.32 L176.97,212.35 L177.71,212.37 L178.45,212.39 L179.18,212.42 L179.92,212.45 L180.66,212.51 L181.40,212.57 L182.14,212.61 L182.88,212.64 L183.62,212.66 L184.35,212.65 L185.09,212.64 L185.83,212.62 L186.57,212.60 L187.31,212.58 L188.05,212.56 L188.78,212.54 L189.52,212.52 L190.26,212.52 L191.00,212.52 L191.74,212.52 L192.48,212.53 L193.22,212.54 L193.95,212.55 L194.69,212.55 L195.43,212.56 L196.17,212.55 L196.91,212.54 L197.65,212.51 L198.38,212.48 L199.12,212.44 L199.86,212.39 L200.60,212.34 L201.34,212.29 L202.08,212.23 L202.82,212.15 L203.55,212.06 L204.29,211.96 L205.03,211.84 L205.77,211.69 L206.51,211.53 L207.25,211.37 L207.99,211.20 L208.72,211.00 L209.46,210.79 L210.20,210.55 L210.94,210.28 L211.68,209.97 L212.42,209.62 L213.16,209.22 L213.89,208.76 L214.63,208.24 L215.37,207.66 L216.11,207.01 L216.85,206.32 L217.59,205.57 L218.32,204.77 L219.06,203.94 L219.80,203.07 L220.54,202.16 L221.28,201.22 L222.02,200.26 L222.76,199.27 L223.49,198.27 L224.23,197.25 L224.97,196.22 L225.71,195.14 L226.45,193.95 L227.19,192.68 L227.93,191.35 L228.66,189.98 L229.40,188.59 L230.14,187.19 L230.88,185.81 L231.62,184.47 L232.36,183.19 L233.09,181.95 L233.83,180.73 L234.57,179.53 L235.31,178.34 L236.05,177.16 L236.79,175.99 L237.53,174.82 L238.26,173.67 L239.00,172.51 L239.74,171.35 L240.48,170.19 L241.22,169.02 L241.96,167.85 L242.69,166.67 L243.43,165.48 L244.17,164.32 L244.91,163.16 L245.65,162.02 L246.39,160.87 L247.13,159.73 L247.86,158.58 L248.60,157.42 L249.34,156.25 L250.08,155.06 L250.82,153.86 L251.56,152.63 L252.30,151.37 L253.03,150.08 L253.77,148.76 L254.51,147.39 L255.25,145.92 L255.99,144.37 L256.73,142.80 L257.47,141.24 L258.20,139.76 L258.94,138.34 L259.68,136.94 L260.42,135.57 L261.16,134.21 L261.90,132.88 L262.63,131.55 L263.37,130.24 L264.11,128.95 L264.85,127.69 L265.59,126.44 L266.33,125.20 L267.07,123.94 L267.80,122.64 L268.54,121.23 L269.28,119.75 L270.02,118.27 L270.76,116.85 L271.50,115.57 L272.24,114.50 L272.97,113.62 L273.71,112.81 L274.45,112.08 L275.19,111.50 L275.93,111.08 L276.67,110.77 L277.40,110.50 L278.14,110.29 L278.88,110.18 L279.62,110.22 L280.36,110.47 L281.10,110.87 L281.84,111.34 L282.57,111.92 L283.31,112.72 L284.05,113.69 L284.79,114.80 L285.53,116.20 L286.27,117.88 L287.00,119.79 L287.74,121.92 L288.48,124.35 L289.22,127.47 L289.96,130.41 L290.70,132.92 L291.44,135.27 L292.17,137.59 L292.91,140.00 L293.65,142.52 L294.39,145.08 L295.13,147.70 L295.87,150.40 L296.61,153.21 L297.34,156.10 L298.08,159.05 L298.82,162.03 L299.56,165.02 L300.30,168.00 L301.04,170.94 L301.78,173.81 L302.51,176.61 L303.25,179.29 L303.99,181.84 L304.73,184.24 L305.47,186.48 L306.21,188.65 L306.94,190.77 L307.68,192.85 L308.42,194.86 L309.16,196.82 L309.90,198.71 L310.64,200.53 L311.38,202.28 L312.11,203.95 L312.85,205.55 L313.59,207.06 L314.33,208.48 L315.07,209.83 L315.81,211.14 L316.55,212.39 L317.28,213.60 L318.02,214.76 L318.76,215.87 L319.50,216.93 L320.24,217.94 L320.98,218.90 L321.71,219.81 L322.45,220.67 L323.19,221.49 L323.93,222.28 L324.67,223.05 L325.41,223.78 L326.15,224.49 L326.88,225.18 L327.62,225.84 L328.36,226.49 L329.10,227.11 L329.84,227.72 L330.58,228.31 L331.32,228.88 L332.05,229.44 L332.79,229.99 L333.53,230.53 L334.27,231.07 L335.01,231.62 L335.75,232.14 L336.48,232.64 L337.22,233.10 L337.96,233.49 L338.70,233.82 L339.44,234.09 L340.18,234.34 L340.92,234.57 L341.65,234.79 L342.39,234.99 L343.13,235.17 L343.87,235.35 L344.61,235.51 L345.35,235.66 L346.09,235.81 L346.82,235.94 L347.56,236.07 L348.30,236.20 L349.04,236.31 L349.78,236.42 L350.52,236.52 L351.25,236.62 L351.99,236.71 L352.73,236.79 L353.47,236.88 L354.21,236.96 L354.95,237.04 L355.69,237.11 L356.42,237.19 L357.16,237.26 L357.90,237.32 L358.64,237.39 L359.38,237.45 L360.12,237.50 L360.86,237.55 L361.59,237.59" fill="none" stroke="#F5C710" stroke-width="0.75" stroke-linejoin="round"/>
<path d="M47.73,210.87 L48.10,210.27 L48.47,211.33 L48.84,211.35 L49.21,211.53 L49.58,212.13 L49.95,212.70 L50.32,211.99 L50.68,212.13 L51.05,211.89 L51.42,211.89 L51.79,212.05 L52.16,209.70 L52.31,210.04 L52.53,192.91 L52.90,161.15 L53.12,142.85 L53.27,156.81 L53.64,187.37 L53.93,212.03 L54.01,210.95 L54.38,211.32 L54.75,211.22 L55.12,211.78 L55.49,211.37 L55.85,212.65 L56.22,212.33 L56.59,213.00 L56.96,214.91 L57.33,214.75 L57.70,214.73 L58.07,215.23 L58.44,216.12 L58.81,217.95 L59.18,218.18 L59.55,218.96 L59.92,219.57 L60.29,220.17 L60.65,220.73 L61.02,221.27 L61.39,221.78 L61.76,222.25 L62.13,222.70 L62.50,223.13 L62.87,223.54 L63.24,223.93 L63.61,224.31 L63.98,224.67 L64.35,225.02 L64.72,225.34 L65.09,225.64 L65.45,225.92 L65.82,226.20 L66.19,226.47 L66.56,226.75 L66.93,227.02 L67.30,227.28 L67.67,227.54 L68.04,227.78 L68.41,228.00 L68.78,228.21 L69.15,228.40 L69.52,228.56 L69.89,228.69 L70.26,228.79 L70.62,228.86 L70.99,228.91 L71.36,228.95 L71.73,229.00 L72.10,229.04 L72.47,229.08 L72.84,229.11 L73.58,229.18 L74.32,229.23 L75.06,229.27 L75.79,229.29 L76.53,229.30 L77.27,229.23 L78.01,229.04 L78.75,228.76 L79.49,228.39 L80.22,227.95 L80.96,227.47 L81.70,226.97 L82.44,226.45 L83.18,225.95 L83.92,225.48 L84.66,225.01 L85.39,224.51 L86.13,223.98 L86.87,223.43 L87.61,222.86 L88.35,222.29 L89.09,221.71 L89.83,221.14 L90.56,220.59 L91.30,220.05 L92.04,219.54 L92.78,219.05 L93.52,218.57 L94.26,218.10 L95.00,217.62 L95.73,217.14 L96.47,216.65 L97.21,216.12 L97.95,215.57 L98.69,214.99 L99.43,214.33 L100.16,213.58 L100.90,212.75 L101.64,211.87 L102.38,210.95 L103.12,210.00 L103.86,209.05 L104.60,208.10 L105.33,207.18 L106.07,206.29 L106.81,205.47 L107.55,204.72 L108.29,204.06 L109.03,203.50 L109.77,203.07 L110.50,202.71 L111.24,202.36 L111.98,202.03 L112.72,201.71 L113.46,201.43 L114.20,201.18 L114.93,200.97 L115.67,200.81 L116.41,200.69 L117.15,200.60 L117.89,200.52 L118.63,200.46 L119.37,200.41 L120.10,200.36 L120.84,200.32 L121.58,200.30 L122.32,200.33 L123.06,200.41 L123.80,200.53 L124.53,200.69 L125.27,200.86 L126.01,201.07 L126.75,201.28 L127.49,201.51 L128.23,201.75 L128.97,202.00 L129.70,202.28 L130.44,202.60 L131.18,202.95 L131.92,203.32 L132.66,203.73 L133.40,204.15 L134.14,204.60 L134.87,205.07 L135.61,205.55 L136.35,206.05 L137.09,206.56 L137.83,207.08 L138.57,207.62 L139.31,208.15 L140.04,208.72 L140.78,209.32 L141.52,209.95 L142.26,210.60 L143.00,211.27 L143.74,211.94 L144.47,212.61 L145.21,213.28 L145.95,213.93 L146.69,214.56 L147.43,215.17 L148.17,215.74 L148.91,216.30 L149.64,216.87 L150.38,217.45 L151.12,218.02 L151.86,218.57 L152.60,219.09 L153.34,219.58 L154.07,220.03 L154.81,220.42 L155.55,220.75 L156.29,221.05 L157.03,221.35 L157.77,221.64 L158.51,221.91 L159.24,222.17 L159.98,222.41 L160.72,222.61 L161.46,222.78 L162.20,222.90 L162.94,222.96 L163.68,223.00 L164.41,223.02 L165.15,223.03 L165.89,223.03 L166.63,223.02 L167.37,223.00 L168.11,222.98 L168.84,222.95 L169.58,222.92 L170.32,222.88 L171.06,222.83 L171.80,222.74 L172.54,222.62 L173.28,222.47 L174.01,222.30 L174.75,222.10 L175.49,221.89 L176.23,221.67 L176.97,221.43 L177.71,221.20 L178.45,220.96 L179.18,220.72 L179.92,220.49 L180.66,220.28 L181.40,220.07 L182.14,219.85 L182.88,219.62 L183.62,219.37 L184.35,219.12 L185.09,218.87 L185.83,218.61 L186.57,218.35 L187.31,218.10 L188.05,217.85 L188.78,217.60 L189.52,217.37 L190.26,217.14 L191.00,216.92 L191.74,216.72 L192.48,216.51 L193.22,216.31 L193.95,216.12 L194.69,215.92 L195.43,215.72 L196.17,215.51 L196.91,215.30 L197.65,215.09 L198.38,214.86 L199.12,214.63 L199.86,214.39 L200.60,214.16 L201.34,213.92 L202.08,213.68 L202.82,213.42 L203.55,213.16 L204.29,212.88 L205.03,212.58 L205.77,212.27 L206.51,211.94 L207.25,211.61 L207.99,211.27 L208.72,210.91 L209.46,210.53 L210.20,210.13 L210.94,209.69 L211.68,209.22 L212.42,208.71 L213.16,208.15 L213.89,207.53 L214.63,206.83 L215.37,206.05 L216.11,205.22 L216.85,204.31 L217.59,203.36 L218.32,202.35 L219.06,201.29 L219.80,200.19 L220.54,199.05 L221.28,197.88 L222.02,196.68 L222.76,195.46 L223.49,194.22 L224.23,192.97 L224.97,191.71 L225.71,190.39 L226.45,188.95 L227.19,187.43 L227.93,185.83 L228.66,184.20 L229.40,182.54 L230.14,180.88 L230.88,179.24 L231.62,177.65 L232.36,176.13 L233.09,174.67 L233.83,173.22 L234.57,171.80 L235.31,170.39 L236.05,168.99 L236.79,167.61 L237.53,166.23 L238.26,164.86 L239.00,163.49 L239.74,162.13 L240.48,160.75 L241.22,159.38 L241.96,157.99 L242.69,156.60 L243.43,155.21 L244.17,153.84 L244.91,152.48 L245.65,151.13 L246.39,149.79 L247.13,148.44 L247.86,147.10 L248.60,145.74 L249.34,144.37 L250.08,142.98 L250.82,141.57 L251.56,140.13 L252.30,138.66 L253.03,137.15 L253.77,135.61 L254.51,134.01 L255.25,132.29 L255.99,130.48 L256.73,128.64 L257.47,126.82 L258.20,125.09 L258.94,123.43 L259.68,121.79 L260.42,120.19 L261.16,118.60 L261.90,117.04 L262.63,115.49 L263.37,113.96 L264.11,112.44 L264.85,110.97 L265.59,109.51 L266.33,108.06 L267.07,106.59 L267.80,105.08 L268.54,103.44 L269.28,101.72 L270.02,99.99 L270.76,98.34 L271.50,96.85 L272.24,95.61 L272.97,94.59 L273.71,93.64 L274.45,92.80 L275.19,92.12 L275.93,91.64 L276.67,91.28 L277.40,90.96 L278.14,90.71 L278.88,90.58 L279.62,90.63 L280.36,90.92 L281.10,91.39 L281.84,91.92 L282.57,92.60 L283.31,93.52 L284.05,94.65 L284.79,95.95 L285.53,97.57 L286.27,99.52 L287.00,101.76 L287.74,104.23 L288.48,107.06 L289.22,110.71 L289.96,114.12 L290.70,117.05 L291.44,119.79 L292.17,122.48 L292.91,125.28 L293.65,128.21 L294.39,131.19 L295.13,134.23 L295.87,137.37 L296.61,140.63 L297.34,143.99 L298.08,147.42 L298.82,150.88 L299.56,154.36 L300.30,157.82 L301.04,161.24 L301.78,164.59 L302.51,167.83 L303.25,170.95 L303.99,173.92 L304.73,176.70 L305.47,179.29 L306.21,181.81 L306.94,184.27 L307.68,186.67 L308.42,189.01 L309.16,191.27 L309.90,193.46 L310.64,195.57 L311.38,197.59 L312.11,199.52 L312.85,201.36 L313.59,203.11 L314.33,204.75 L315.07,206.31 L315.81,207.81 L316.55,209.26 L317.28,210.65 L318.02,211.98 L318.76,213.25 L319.50,214.47 L320.24,215.63 L320.98,216.73 L321.71,217.78 L322.45,218.76 L323.19,219.70 L323.93,220.60 L324.67,221.47 L325.41,222.31 L326.15,223.12 L326.88,223.90 L327.62,224.66 L328.36,225.39 L329.10,226.10 L329.84,226.79 L330.58,227.46 L331.32,228.11 L332.05,228.75 L332.79,229.38 L333.53,229.99 L334.27,230.61 L335.01,231.23 L335.75,231.83 L336.48,232.39 L337.22,232.91 L337.96,233.36 L338.70,233.72 L339.44,234.02 L340.18,234.30 L340.92,234.56 L341.65,234.80 L342.39,235.02 L343.13,235.22 L343.87,235.40 L344.61,235.58 L345.35,235.74 L346.09,235.89 L346.82,236.04 L347.56,236.18 L348.30,236.30 L349.04,236.42 L349.78,236.54 L350.52,236.64 L351.25,236.74 L351.99,236.83 L352.73,236.91 L353.47,236.99 L354.21,237.07 L354.95,237.15 L355.69,237.22 L356.42,237.30 L357.16,237.36 L357.90,237.43 L358.64,237.49 L359.38,237.54 L360.12,237.59 L360.86,237.63 L361.59,237.67" fill="none" stroke="#9E9E9E" stroke-width="0.75" stroke-linejoin="round"/>
<path d="M47.73,187.37 L48.10,188.27 L48.47,188.50 L48.84,188.07 L49.21,189.24 L49.58,189.95 L49.95,189.02 L50.32,190.11 L50.68,188.02 L51.05,187.74 L51.42,188.05 L51.79,186.80 L52.16,186.11 L52.31,184.84 L52.53,169.45 L52.90,144.13 L53.12,129.05 L53.27,137.09 L53.64,155.54 L53.93,171.75 L54.01,171.48 L54.38,173.76 L54.75,175.67 L55.12,177.56 L55.49,180.35 L55.85,182.39 L56.22,184.24 L56.59,184.99 L56.96,186.59 L57.33,187.60 L57.70,189.20 L58.07,191.91 L58.44,193.66 L58.81,193.74 L59.18,194.77 L59.55,196.98 L59.92,198.33 L60.29,199.66 L60.65,200.96 L61.02,202.23 L61.39,203.46 L61.76,204.64 L62.13,205.81 L62.50,206.99 L62.87,208.17 L63.24,209.33 L63.61,210.46 L63.98,211.53 L64.35,212.52 L64.72,213.43 L65.09,214.23 L65.45,214.91 L65.82,215.52 L66.19,216.12 L66.56,216.71 L66.93,217.28 L67.30,217.83 L67.67,218.35 L68.04,218.84 L68.41,219.28 L68.78,219.68 L69.15,220.03 L69.52,220.32 L69.89,220.54 L70.26,220.70 L70.62,220.78 L70.99,220.83 L71.36,220.87 L71.73,220.91 L72.10,220.94 L72.47,220.97 L72.84,221.00 L73.58,221.06 L74.32,221.10 L75.06,221.13 L75.79,221.14 L76.53,221.15 L77.27,221.10 L78.01,220.95 L78.75,220.71 L79.49,220.40 L80.22,220.04 L80.96,219.63 L81.70,219.20 L82.44,218.74 L83.18,218.29 L83.92,217.85 L84.66,217.38 L85.39,216.84 L86.13,216.25 L86.87,215.61 L87.61,214.94 L88.35,214.26 L89.09,213.57 L89.83,212.89 L90.56,212.23 L91.30,211.61 L92.04,211.01 L92.78,210.41 L93.52,209.83 L94.26,209.24 L95.00,208.66 L95.73,208.08 L96.47,207.50 L97.21,206.92 L97.95,206.33 L98.69,205.74 L99.43,205.12 L100.16,204.47 L100.90,203.80 L101.64,203.11 L102.38,202.41 L103.12,201.71 L103.86,201.02 L104.60,200.34 L105.33,199.68 L106.07,199.05 L106.81,198.46 L107.55,197.92 L108.29,197.43 L109.03,197.00 L109.77,196.64 L110.50,196.31 L111.24,195.98 L111.98,195.66 L112.72,195.34 L113.46,195.05 L114.20,194.80 L114.93,194.60 L115.67,194.47 L116.41,194.39 L117.15,194.36 L117.89,194.36 L118.63,194.38 L119.37,194.42 L120.10,194.47 L120.84,194.51 L121.58,194.59 L122.32,194.74 L123.06,194.94 L123.80,195.19 L124.53,195.48 L125.27,195.81 L126.01,196.16 L126.75,196.54 L127.49,196.92 L128.23,197.31 L128.97,197.72 L129.70,198.17 L130.44,198.65 L131.18,199.17 L131.92,199.72 L132.66,200.30 L133.40,200.91 L134.14,201.53 L134.87,202.18 L135.61,202.85 L136.35,203.54 L137.09,204.23 L137.83,204.94 L138.57,205.66 L139.31,206.37 L140.04,207.12 L140.78,207.91 L141.52,208.73 L142.26,209.58 L143.00,210.44 L143.74,211.32 L144.47,212.19 L145.21,213.05 L145.95,213.88 L146.69,214.69 L147.43,215.47 L148.17,216.19 L148.91,216.90 L149.64,217.61 L150.38,218.33 L151.12,219.03 L151.86,219.70 L152.60,220.34 L153.34,220.93 L154.07,221.47 L154.81,221.94 L155.55,222.33 L156.29,222.68 L157.03,223.02 L157.77,223.36 L158.51,223.68 L159.24,223.97 L159.98,224.23 L160.72,224.45 L161.46,224.62 L162.20,224.73 L162.94,224.77 L163.68,224.76 L164.41,224.74 L165.15,224.71 L165.89,224.65 L166.63,224.59 L167.37,224.52 L168.11,224.43 L168.84,224.34 L169.58,224.24 L170.32,224.14 L171.06,224.01 L171.80,223.84 L172.54,223.61 L173.28,223.35 L174.01,223.05 L174.75,222.73 L175.49,222.38 L176.23,222.02 L176.97,221.65 L177.71,221.26 L178.45,220.88 L179.18,220.50 L179.92,220.14 L180.66,219.79 L181.40,219.44 L182.14,219.07 L182.88,218.70 L183.62,218.32 L184.35,217.93 L185.09,217.53 L185.83,217.14 L186.57,216.74 L187.31,216.35 L188.05,215.97 L188.78,215.60 L189.52,215.24 L190.26,214.89 L191.00,214.55 L191.74,214.22 L192.48,213.90 L193.22,213.59 L193.95,213.28 L194.69,212.97 L195.43,212.65 L196.17,212.34 L196.91,212.02 L197.65,211.69 L198.38,211.34 L199.12,211.00 L199.86,210.65 L200.60,210.30 L201.34,209.95 L202.08,209.59 L202.82,209.23 L203.55,208.84 L204.29,208.45 L205.03,208.03 L205.77,207.60 L206.51,207.15 L207.25,206.69 L207.99,206.23 L208.72,205.74 L209.46,205.23 L210.20,204.69 L210.94,204.11 L211.68,203.49 L212.42,202.82 L213.16,202.09 L213.89,201.29 L214.63,200.40 L215.37,199.41 L216.11,198.34 L216.85,197.20 L217.59,195.98 L218.32,194.70 L219.06,193.36 L219.80,191.97 L220.54,190.53 L221.28,189.06 L222.02,187.55 L222.76,186.01 L223.49,184.46 L224.23,182.89 L224.97,181.31 L225.71,179.64 L226.45,177.85 L227.19,175.94 L227.93,173.95 L228.66,171.91 L229.40,169.84 L230.14,167.77 L230.88,165.74 L231.62,163.76 L232.36,161.87 L233.09,160.04 L233.83,158.24 L234.57,156.47 L235.31,154.71 L236.05,152.97 L236.79,151.25 L237.53,149.54 L238.26,147.83 L239.00,146.13 L239.74,144.43 L240.48,142.72 L241.22,141.01 L241.96,139.29 L242.69,137.56 L243.43,135.83 L244.17,134.12 L244.91,132.44 L245.65,130.76 L246.39,129.09 L247.13,127.42 L247.86,125.75 L248.60,124.06 L249.34,122.36 L250.08,120.64 L250.82,118.89 L251.56,117.10 L252.30,115.28 L253.03,113.41 L253.77,111.49 L254.51,109.51 L255.25,107.38 L255.99,105.13 L256.73,102.84 L257.47,100.59 L258.20,98.44 L258.94,96.37 L259.68,94.35 L260.42,92.35 L261.16,90.39 L261.90,88.45 L262.63,86.53 L263.37,84.62 L264.11,82.75 L264.85,80.92 L265.59,79.11 L266.33,77.31 L267.07,75.49 L267.80,73.62 L268.54,71.58 L269.28,69.44 L270.02,67.30 L270.76,65.26 L271.50,63.41 L272.24,61.87 L272.97,60.61 L273.71,59.44 L274.45,58.40 L275.19,57.55 L275.93,56.95 L276.67,56.51 L277.40,56.11 L278.14,55.81 L278.88,55.65 L279.62,55.70 L280.36,56.07 L281.10,56.64 L281.84,57.30 L282.57,58.14 L283.31,59.29 L284.05,60.68 L284.79,62.29 L285.53,64.30 L286.27,66.72 L287.00,69.49 L287.74,72.56 L288.48,76.07 L289.22,80.59 L289.96,84.82 L290.70,88.45 L291.44,91.84 L292.17,95.18 L292.91,98.65 L293.65,102.27 L294.39,105.97 L295.13,109.74 L295.87,113.63 L296.61,117.67 L297.34,121.83 L298.08,126.08 L298.82,130.37 L299.56,134.68 L300.30,138.97 L301.04,143.20 L301.78,147.35 L302.51,151.37 L303.25,155.24 L303.99,158.91 L304.73,162.35 L305.47,165.56 L306.21,168.68 L306.94,171.73 L307.68,174.70 L308.42,177.59 L309.16,180.39 L309.90,183.10 L310.64,185.71 L311.38,188.21 L312.11,190.60 L312.85,192.88 L313.59,195.04 L314.33,197.07 L315.07,199.00 L315.81,200.85 L316.55,202.64 L317.28,204.36 L318.02,206.00 L318.76,207.58 L319.50,209.08 L320.24,210.52 L320.98,211.88 L321.71,213.16 L322.45,214.38 L323.19,215.54 L323.93,216.65 L324.67,217.72 L325.41,218.76 L326.15,219.75 L326.88,220.72 L327.62,221.65 L328.36,222.55 L329.10,223.42 L329.84,224.27 L330.58,225.10 L331.32,225.90 L332.05,226.69 L332.79,227.46 L333.53,228.22 L334.27,228.98 L335.01,229.74 L335.75,230.48 L336.48,231.18 L337.22,231.81 L337.96,232.36 L338.70,232.81 L339.44,233.18 L340.18,233.52 L340.92,233.84 L341.65,234.13 L342.39,234.39 L343.13,234.64 L343.87,234.86 L344.61,235.08 L345.35,235.27 L346.09,235.46 L346.82,235.63 L347.56,235.80 L348.30,235.95 L349.04,236.10 L349.78,236.23 L350.52,236.36 L351.25,236.47 L351.99,236.58 L352.73,236.67 L353.47,236.77 L354.21,236.87 L354.95,236.96 L355.69,237.05 L356.42,237.13 L357.16,237.21 L357.90,237.28 L358.64,237.35 L359.38,237.41 L360.12,237.47 L360.86,237.52 L361.59,237.56" fill="none" stroke="#000000" stroke-width="0.75" stroke-linejoin="round"/>
<path d="M47.73,185.34 L48.10,185.41 L48.47,186.28 L48.84,187.19 L49.21,186.92 L49.58,189.36 L49.95,189.18 L50.32,188.99 L50.68,188.20 L51.05,188.63 L51.42,188.30 L51.79,187.77 L52.16,187.02 L52.31,186.45 L52.53,176.05 L52.90,161.34 L53.12,149.69 L53.27,154.09 L53.64,164.29 L53.93,172.92 L54.01,172.41 L54.38,175.07 L54.75,174.71 L55.12,177.38 L55.49,178.32 L55.85,179.76 L56.22,180.80 L56.59,183.37 L56.96,183.58 L57.33,185.29 L57.70,186.10 L58.07,188.30 L58.44,189.87 L58.81,192.21 L59.18,192.65 L59.55,194.00 L59.92,195.34 L60.29,196.66 L60.65,197.96 L61.02,199.24 L61.39,200.48 L61.76,201.70 L62.13,202.92 L62.50,204.16 L62.87,205.40 L63.24,206.63 L63.61,207.83 L63.98,208.98 L64.35,210.06 L64.72,211.05 L65.09,211.94 L65.45,212.71 L65.82,213.41 L66.19,214.10 L66.56,214.79 L66.93,215.45 L67.30,216.09 L67.67,216.70 L68.04,217.27 L68.41,217.80 L68.78,218.28 L69.15,218.70 L69.52,219.05 L69.89,219.34 L70.26,219.55 L70.62,219.68 L70.99,219.77 L71.36,219.85 L71.73,219.92 L72.10,219.99 L72.47,220.06 L72.84,220.12 L73.58,220.22 L74.32,220.31 L75.06,220.37 L75.79,220.40 L76.53,220.42 L77.27,220.36 L78.01,220.21 L78.75,219.97 L79.49,219.66 L80.22,219.29 L80.96,218.89 L81.70,218.45 L82.44,218.00 L83.18,217.55 L83.92,217.11 L84.66,216.66 L85.39,216.15 L86.13,215.59 L86.87,215.00 L87.61,214.38 L88.35,213.75 L89.09,213.11 L89.83,212.47 L90.56,211.84 L91.30,211.24 L92.04,210.66 L92.78,210.07 L93.52,209.48 L94.26,208.90 L95.00,208.31 L95.73,207.72 L96.47,207.14 L97.21,206.55 L97.95,205.96 L98.69,205.37 L99.43,204.76 L100.16,204.12 L100.90,203.46 L101.64,202.78 L102.38,202.09 L103.12,201.41 L103.86,200.73 L104.60,200.06 L105.33,199.42 L106.07,198.81 L106.81,198.24 L107.55,197.71 L108.29,197.24 L109.03,196.83 L109.77,196.49 L110.50,196.18 L111.24,195.87 L111.98,195.55 L112.72,195.25 L113.46,194.98 L114.20,194.74 L114.93,194.55 L115.67,194.44 L116.41,194.37 L117.15,194.36 L117.89,194.38 L118.63,194.43 L119.37,194.49 L120.10,194.56 L120.84,194.63 L121.58,194.73 L122.32,194.90 L123.06,195.12 L123.80,195.40 L124.53,195.72 L125.27,196.07 L126.01,196.45 L126.75,196.84 L127.49,197.25 L128.23,197.67 L128.97,198.10 L129.70,198.57 L130.44,199.07 L131.18,199.61 L131.92,200.18 L132.66,200.78 L133.40,201.40 L134.14,202.05 L134.87,202.71 L135.61,203.40 L136.35,204.10 L137.09,204.81 L137.83,205.53 L138.57,206.26 L139.31,206.99 L140.04,207.75 L140.78,208.55 L141.52,209.38 L142.26,210.24 L143.00,211.11 L143.74,211.99 L144.47,212.87 L145.21,213.74 L145.95,214.58 L146.69,215.40 L147.43,216.18 L148.17,216.91 L148.91,217.62 L149.64,218.34 L150.38,219.05 L151.12,219.75 L151.86,220.43 L152.60,221.07 L153.34,221.66 L154.07,222.20 L154.81,222.66 L155.55,223.05 L156.29,223.40 L157.03,223.75 L157.77,224.08 L158.51,224.40 L159.24,224.69 L159.98,224.95 L160.72,225.16 L161.46,225.32 L162.20,225.43 L162.94,225.46 L163.68,225.45 L164.41,225.42 L165.15,225.38 L165.89,225.32 L166.63,225.25 L167.37,225.17 L168.11,225.08 L168.84,224.98 L169.58,224.88 L170.32,224.77 L171.06,224.63 L171.80,224.44 L172.54,224.21 L173.28,223.94 L174.01,223.63 L174.75,223.29 L175.49,222.93 L176.23,222.56 L176.97,222.17 L177.71,221.78 L178.45,221.38 L179.18,220.99 L179.92,220.62 L180.66,220.25 L181.40,219.89 L182.14,219.52 L182.88,219.13 L183.62,218.74 L184.35,218.33 L185.09,217.93 L185.83,217.52 L186.57,217.12 L187.31,216.72 L188.05,216.33 L188.78,215.94 L189.52,215.57 L190.26,215.21 L191.00,214.87 L191.74,214.53 L192.48,214.20 L193.22,213.88 L193.95,213.56 L194.69,213.24 L195.43,212.91 L196.17,212.59 L196.91,212.26 L197.65,211.92 L198.38,211.57 L199.12,211.21 L199.86,210.86 L200.60,210.50 L201.34,210.15 L202.08,209.78 L202.82,209.40 L203.55,209.01 L204.29,208.61 L205.03,208.19 L205.77,207.75 L206.51,207.29 L207.25,206.83 L207.99,206.35 L208.72,205.86 L209.46,205.34 L210.20,204.79 L210.94,204.21 L211.68,203.58 L212.42,202.91 L213.16,202.18 L213.89,201.37 L214.63,200.47 L215.37,199.48 L216.11,198.40 L216.85,197.25 L217.59,196.03 L218.32,194.74 L219.06,193.40 L219.80,192.00 L220.54,190.56 L221.28,189.08 L222.02,187.56 L222.76,186.02 L223.49,184.46 L224.23,182.88 L224.97,181.30 L225.71,179.63 L226.45,177.83 L227.19,175.91 L227.93,173.92 L228.66,171.87 L229.40,169.80 L230.14,167.72 L230.88,165.68 L231.62,163.70 L232.36,161.80 L233.09,159.97 L233.83,158.17 L234.57,156.39 L235.31,154.63 L236.05,152.89 L236.79,151.16 L237.53,149.44 L238.26,147.73 L239.00,146.03 L239.74,144.32 L240.48,142.61 L241.22,140.90 L241.96,139.17 L242.69,137.43 L243.43,135.70 L244.17,133.99 L244.91,132.30 L245.65,130.62 L246.39,128.95 L247.13,127.28 L247.86,125.60 L248.60,123.91 L249.34,122.21 L250.08,120.48 L250.82,118.72 L251.56,116.94 L252.30,115.11 L253.03,113.23 L253.77,111.31 L254.51,109.32 L255.25,107.19 L255.99,104.94 L256.73,102.64 L257.47,100.39 L258.20,98.23 L258.94,96.16 L259.68,94.13 L260.42,92.13 L261.16,90.16 L261.90,88.22 L262.63,86.30 L263.37,84.39 L264.11,82.51 L264.85,80.67 L265.59,78.86 L266.33,77.06 L267.07,75.23 L267.80,73.36 L268.54,71.32 L269.28,69.18 L270.02,67.03 L270.76,64.98 L271.50,63.13 L272.24,61.59 L272.97,60.33 L273.71,59.15 L274.45,58.11 L275.19,57.26 L275.93,56.66 L276.67,56.22 L277.40,55.82 L278.14,55.52 L278.88,55.36 L279.62,55.41 L280.36,55.77 L281.10,56.35 L281.84,57.01 L282.57,57.85 L283.31,59.00 L284.05,60.40 L284.79,62.01 L285.53,64.03 L286.27,66.45 L287.00,69.23 L287.74,72.30 L288.48,75.82 L289.22,80.34 L289.96,84.59 L290.70,88.22 L291.44,91.62 L292.17,94.97 L292.91,98.44 L293.65,102.07 L294.39,105.77 L295.13,109.55 L295.87,113.44 L296.61,117.49 L297.34,121.66 L298.08,125.92 L298.82,130.22 L299.56,134.54 L300.30,138.83 L301.04,143.08 L301.78,147.23 L302.51,151.26 L303.25,155.13 L303.99,158.81 L304.73,162.26 L305.47,165.48 L306.21,168.60 L306.94,171.66 L307.68,174.63 L308.42,177.53 L309.16,180.33 L309.90,183.04 L310.64,185.66 L311.38,188.17 L312.11,190.56 L312.85,192.84 L313.59,195.00 L314.33,197.04 L315.07,198.97 L315.81,200.83 L316.55,202.62 L317.28,204.34 L318.02,205.99 L318.76,207.57 L319.50,209.07 L320.24,210.51 L320.98,211.87 L321.71,213.16 L322.45,214.37 L323.19,215.53 L323.93,216.65 L324.67,217.72 L325.41,218.76 L326.15,219.75 L326.88,220.72 L327.62,221.65 L328.36,222.55 L329.10,223.43 L329.84,224.28 L330.58,225.11 L331.32,225.91 L332.05,226.70 L332.79,227.47 L333.53,228.23 L334.27,228.99 L335.01,229.75 L335.75,230.49 L336.48,231.19 L337.22,231.83 L337.96,232.38 L338.70,232.83 L339.44,233.20 L340.18,233.54 L340.92,233.85 L341.65,234.14 L342.39,234.41 L343.13,234.65 L343.87,234.88 L344.61,235.09 L345.35,235.29 L346.09,235.47 L346.82,235.65 L347.56,235.81 L348.30,235.97 L349.04,236.11 L349.78,236.25 L350.52,236.37 L351.25,236.48 L351.99,236.59 L352.73,236.69 L353.47,236.78 L354.21,236.88 L354.95,236.97 L355.69,237.06 L356.42,237.14 L357.16,237.22 L357.90,237.29 L358.64,237.36 L359.38,237.42 L360.12,237.48 L360.86,237.52 L361.59,237.56" fill="none" stroke="#DF536B" stroke-width="0.75" stroke-linejoin="round"/>
<path d="M47.73,194.35 L48.10,194.41 L48.47,193.77 L48.84,190.80 L49.21,192.50 L49.58,191.55 L49.95,191.24 L50.32,191.99 L50.68,190.19 L51.05,190.68 L51.42,191.02 L51.79,189.83 L52.16,190.37 L52.31,189.77 L52.53,173.50 L52.90,144.15 L53.12,126.44 L53.27,135.65 L53.64,157.54 L53.93,174.28 L54.01,173.81 L54.38,177.10 L54.75,178.96 L55.12,179.69 L55.49,182.05 L55.85,184.11 L56.22,186.06 L56.59,187.29 L56.96,188.75 L57.33,190.68 L57.70,193.66 L58.07,194.00 L58.44,196.64 L58.81,196.01 L59.18,198.59 L59.55,200.12 L59.92,201.47 L60.29,202.77 L60.65,204.04 L61.02,205.26 L61.39,206.44 L61.76,207.57 L62.13,208.69 L62.50,209.81 L62.87,210.92 L63.24,212.00 L63.61,213.05 L63.98,214.04 L64.35,214.95 L64.72,215.78 L65.09,216.51 L65.45,217.11 L65.82,217.65 L66.19,218.19 L66.56,218.71 L66.93,219.21 L67.30,219.68 L67.67,220.14 L68.04,220.56 L68.41,220.94 L68.78,221.29 L69.15,221.59 L69.52,221.84 L69.89,222.04 L70.26,222.18 L70.62,222.25 L70.99,222.29 L71.36,222.34 L71.73,222.37 L72.10,222.41 L72.47,222.44 L72.84,222.47 L73.58,222.52 L74.32,222.56 L75.06,222.59 L75.79,222.61 L76.53,222.62 L77.27,222.56 L78.01,222.41 L78.75,222.17 L79.49,221.86 L80.22,221.50 L80.96,221.09 L81.70,220.65 L82.44,220.20 L83.18,219.75 L83.92,219.32 L84.66,218.86 L85.39,218.35 L86.13,217.78 L86.87,217.19 L87.61,216.56 L88.35,215.92 L89.09,215.28 L89.83,214.65 L90.56,214.03 L91.30,213.44 L92.04,212.88 L92.78,212.33 L93.52,211.80 L94.26,211.26 L95.00,210.73 L95.73,210.19 L96.47,209.65 L97.21,209.09 L97.95,208.52 L98.69,207.94 L99.43,207.31 L100.16,206.64 L100.90,205.92 L101.64,205.18 L102.38,204.41 L103.12,203.64 L103.86,202.87 L104.60,202.11 L105.33,201.38 L106.07,200.68 L106.81,200.03 L107.55,199.43 L108.29,198.89 L109.03,198.44 L109.77,198.07 L110.50,197.74 L111.24,197.41 L111.98,197.09 L112.72,196.78 L113.46,196.50 L114.20,196.25 L114.93,196.06 L115.67,195.93 L116.41,195.86 L117.15,195.83 L117.89,195.83 L118.63,195.86 L119.37,195.90 L120.10,195.94 L120.84,195.99 L121.58,196.07 L122.32,196.22 L123.06,196.42 L123.80,196.68 L124.53,196.98 L125.27,197.32 L126.01,197.68 L126.75,198.07 L127.49,198.47 L128.23,198.87 L128.97,199.29 L129.70,199.75 L130.44,200.25 L131.18,200.78 L131.92,201.35 L132.66,201.95 L133.40,202.57 L134.14,203.22 L134.87,203.89 L135.61,204.58 L136.35,205.29 L137.09,206.01 L137.83,206.75 L138.57,207.48 L139.31,208.23 L140.04,209.00 L140.78,209.81 L141.52,210.66 L142.26,211.54 L143.00,212.44 L143.74,213.34 L144.47,214.24 L145.21,215.13 L145.95,216.00 L146.69,216.84 L147.43,217.63 L148.17,218.38 L148.91,219.11 L149.64,219.84 L150.38,220.57 L151.12,221.28 L151.86,221.97 L152.60,222.62 L153.34,223.22 L154.07,223.76 L154.81,224.23 L155.55,224.62 L156.29,224.97 L157.03,225.31 L157.77,225.65 L158.51,225.97 L159.24,226.26 L159.98,226.51 L160.72,226.72 L161.46,226.87 L162.20,226.96 L162.94,226.98 L163.68,226.96 L164.41,226.91 L165.15,226.85 L165.89,226.77 L166.63,226.68 L167.37,226.58 L168.11,226.47 L168.84,226.35 L169.58,226.22 L170.32,226.09 L171.06,225.93 L171.80,225.71 L172.54,225.45 L173.28,225.14 L174.01,224.80 L174.75,224.43 L175.49,224.03 L176.23,223.61 L176.97,223.19 L177.71,222.75 L178.45,222.32 L179.18,221.89 L179.92,221.48 L180.66,221.07 L181.40,220.67 L182.14,220.26 L182.88,219.83 L183.62,219.40 L184.35,218.96 L185.09,218.52 L185.83,218.08 L186.57,217.64 L187.31,217.20 L188.05,216.77 L188.78,216.35 L189.52,215.95 L190.26,215.56 L191.00,215.18 L191.74,214.81 L192.48,214.45 L193.22,214.09 L193.95,213.74 L194.69,213.39 L195.43,213.04 L196.17,212.69 L196.91,212.32 L197.65,211.95 L198.38,211.58 L199.12,211.19 L199.86,210.81 L200.60,210.42 L201.34,210.04 L202.08,209.64 L202.82,209.24 L203.55,208.82 L204.29,208.39 L205.03,207.94 L205.77,207.47 L206.51,206.99 L207.25,206.50 L207.99,206.00 L208.72,205.47 L209.46,204.93 L210.20,204.35 L210.94,203.74 L211.68,203.08 L212.42,202.38 L213.16,201.62 L213.89,200.78 L214.63,199.85 L215.37,198.82 L216.11,197.71 L216.85,196.51 L217.59,195.25 L218.32,193.92 L219.06,192.53 L219.80,191.09 L220.54,189.60 L221.28,188.07 L222.02,186.51 L222.76,184.92 L223.49,183.30 L224.23,181.68 L224.97,180.04 L225.71,178.33 L226.45,176.47 L227.19,174.50 L227.93,172.45 L228.66,170.34 L229.40,168.21 L230.14,166.08 L230.88,163.98 L231.62,161.94 L232.36,159.99 L233.09,158.11 L233.83,156.25 L234.57,154.42 L235.31,152.62 L236.05,150.83 L236.79,149.05 L237.53,147.28 L238.26,145.53 L239.00,143.77 L239.74,142.02 L240.48,140.26 L241.22,138.50 L241.96,136.73 L242.69,134.94 L243.43,133.16 L244.17,131.40 L244.91,129.67 L245.65,127.94 L246.39,126.22 L247.13,124.50 L247.86,122.78 L248.60,121.05 L249.34,119.30 L250.08,117.52 L250.82,115.72 L251.56,113.89 L252.30,112.01 L253.03,110.08 L253.77,108.11 L254.51,106.07 L255.25,103.87 L255.99,101.56 L256.73,99.21 L257.47,96.89 L258.20,94.68 L258.94,92.55 L259.68,90.47 L260.42,88.42 L261.16,86.39 L261.90,84.40 L262.63,82.42 L263.37,80.46 L264.11,78.53 L264.85,76.65 L265.59,74.79 L266.33,72.94 L267.07,71.06 L267.80,69.14 L268.54,67.05 L269.28,64.85 L270.02,62.64 L270.76,60.54 L271.50,58.64 L272.24,57.06 L272.97,55.76 L273.71,54.55 L274.45,53.49 L275.19,52.62 L275.93,52.00 L276.67,51.54 L277.40,51.14 L278.14,50.83 L278.88,50.66 L279.62,50.71 L280.36,51.09 L281.10,51.68 L281.84,52.36 L282.57,53.22 L283.31,54.40 L284.05,55.83 L284.79,57.49 L285.53,59.56 L286.27,62.04 L287.00,64.89 L287.74,68.05 L288.48,71.66 L289.22,76.31 L289.96,80.66 L290.70,84.39 L291.44,87.88 L292.17,91.32 L292.91,94.88 L293.65,98.61 L294.39,102.41 L295.13,106.28 L295.87,110.28 L296.61,114.44 L297.34,118.72 L298.08,123.08 L298.82,127.50 L299.56,131.93 L300.30,136.34 L301.04,140.70 L301.78,144.96 L302.51,149.10 L303.25,153.07 L303.99,156.85 L304.73,160.39 L305.47,163.69 L306.21,166.90 L306.94,170.03 L307.68,173.08 L308.42,176.05 L309.16,178.93 L309.90,181.71 L310.64,184.39 L311.38,186.97 L312.11,189.43 L312.85,191.77 L313.59,193.98 L314.33,196.07 L315.07,198.05 L315.81,199.96 L316.55,201.79 L317.28,203.56 L318.02,205.25 L318.76,206.87 L319.50,208.41 L320.24,209.88 L320.98,211.28 L321.71,212.60 L322.45,213.85 L323.19,215.03 L323.93,216.18 L324.67,217.28 L325.41,218.34 L326.15,219.36 L326.88,220.35 L327.62,221.30 L328.36,222.23 L329.10,223.12 L329.84,223.99 L330.58,224.84 L331.32,225.67 L332.05,226.48 L332.79,227.27 L333.53,228.04 L334.27,228.82 L335.01,229.60 L335.75,230.36 L336.48,231.08 L337.22,231.73 L337.96,232.29 L338.70,232.75 L339.44,233.13 L340.18,233.48 L340.92,233.80 L341.65,234.09 L342.39,234.37 L343.13,234.62 L343.87,234.85 L344.61,235.06 L345.35,235.26 L346.09,235.45 L346.82,235.63 L347.56,235.80 L348.30,235.95 L349.04,236.10 L349.78,236.24 L350.52,236.36 L351.25,236.48 L351.99,236.58 L352.73,236.68 L353.47,236.78 L354.21,236.88 L354.95,236.97 L355.69,237.06 L356.42,237.14 L357.16,237.22 L357.90,237.29 L358.64,237.36 L359.38,237.42 L360.12,237.48 L360.86,237.53 L361.59,237.56" fill="none" stroke="#61D04F" stroke-width="0.75" stroke-linejoin="round"/>
<path d="M47.73,159.96 L48.10,160.79 L48.47,163.19 L48.84,162.51 L49.21,164.76 L49.58,165.41 L49.95,165.67 L50.32,168.06 L50.68,167.47 L51.05,168.90 L51.42,170.11 L51.79,169.47 L52.16,170.73 L52.31,171.67 L52.53,150.64 L52.90,117.43 L53.12,97.27 L53.27,110.53 L53.64,143.60 L53.93,172.20 L54.01,171.99 L54.38,170.50 L54.75,171.62 L55.12,170.72 L55.49,170.57 L55.85,170.93 L56.22,169.88 L56.59,168.78 L56.96,168.02 L57.33,166.87 L57.70,166.38 L58.07,165.24 L58.44,167.04 L58.81,168.81 L59.18,169.59 L59.55,169.27 L59.92,170.92 L60.29,172.71 L60.65,174.57 L61.02,176.40 L61.39,178.13 L61.76,179.68 L62.13,181.17 L62.50,182.75 L62.87,184.39 L63.24,186.04 L63.61,187.68 L63.98,189.27 L64.35,190.77 L64.72,192.14 L65.09,193.35 L65.45,194.36 L65.82,195.24 L66.19,196.09 L66.56,196.91 L66.93,197.69 L67.30,198.43 L67.67,199.13 L68.04,199.79 L68.41,200.41 L68.78,200.98 L69.15,201.52 L69.52,202.00 L69.89,202.44 L70.26,202.83 L70.62,203.17 L70.99,203.48 L71.36,203.79 L71.73,204.10 L72.10,204.39 L72.47,204.68 L72.84,204.95 L73.58,205.45 L74.32,205.87 L75.06,206.19 L75.79,206.40 L76.53,206.47 L77.27,206.47 L78.01,206.45 L78.75,206.43 L79.49,206.41 L80.22,206.37 L80.96,206.33 L81.70,206.28 L82.44,206.23 L83.18,206.17 L83.92,206.10 L84.66,206.00 L85.39,205.81 L86.13,205.55 L86.87,205.24 L87.61,204.89 L88.35,204.49 L89.09,204.08 L89.83,203.65 L90.56,203.22 L91.30,202.80 L92.04,202.37 L92.78,201.89 L93.52,201.38 L94.26,200.83 L95.00,200.27 L95.73,199.68 L96.47,199.09 L97.21,198.49 L97.95,197.89 L98.69,197.30 L99.43,196.67 L100.16,195.99 L100.90,195.27 L101.64,194.51 L102.38,193.73 L103.12,192.94 L103.86,192.17 L104.60,191.41 L105.33,190.68 L106.07,190.00 L106.81,189.38 L107.55,188.83 L108.29,188.37 L109.03,188.01 L109.77,187.75 L110.50,187.55 L111.24,187.34 L111.98,187.12 L112.72,186.89 L113.46,186.69 L114.20,186.51 L114.93,186.41 L115.67,186.38 L116.41,186.44 L117.15,186.56 L117.89,186.75 L118.63,186.98 L119.37,187.23 L120.10,187.49 L120.84,187.75 L121.58,188.06 L122.32,188.43 L123.06,188.87 L123.80,189.36 L124.53,189.89 L125.27,190.46 L126.01,191.05 L126.75,191.66 L127.49,192.28 L128.23,192.89 L128.97,193.52 L129.70,194.19 L130.44,194.88 L131.18,195.61 L131.92,196.36 L132.66,197.13 L133.40,197.92 L134.14,198.73 L134.87,199.55 L135.61,200.39 L136.35,201.23 L137.09,202.08 L137.83,202.93 L138.57,203.79 L139.31,204.64 L140.04,205.51 L140.78,206.42 L141.52,207.36 L142.26,208.32 L143.00,209.29 L143.74,210.27 L144.47,211.23 L145.21,212.19 L145.95,213.11 L146.69,214.00 L147.43,214.85 L148.17,215.65 L148.91,216.42 L149.64,217.19 L150.38,217.96 L151.12,218.72 L151.86,219.44 L152.60,220.13 L153.34,220.76 L154.07,221.34 L154.81,221.84 L155.55,222.25 L156.29,222.62 L157.03,222.99 L157.77,223.35 L158.51,223.69 L159.24,224.00 L159.98,224.27 L160.72,224.50 L161.46,224.67 L162.20,224.78 L162.94,224.82 L163.68,224.81 L164.41,224.78 L165.15,224.74 L165.89,224.67 L166.63,224.60 L167.37,224.51 L168.11,224.42 L168.84,224.31 L169.58,224.20 L170.32,224.09 L171.06,223.94 L171.80,223.74 L172.54,223.50 L173.28,223.21 L174.01,222.88 L174.75,222.53 L175.49,222.15 L176.23,221.75 L176.97,221.34 L177.71,220.93 L178.45,220.51 L179.18,220.10 L179.92,219.70 L180.66,219.32 L181.40,218.93 L182.14,218.54 L182.88,218.13 L183.62,217.71 L184.35,217.29 L185.09,216.86 L185.83,216.43 L186.57,216.01 L187.31,215.58 L188.05,215.17 L188.78,214.76 L189.52,214.37 L190.26,213.99 L191.00,213.62 L191.74,213.27 L192.48,212.92 L193.22,212.58 L193.95,212.24 L194.69,211.90 L195.43,211.56 L196.17,211.22 L196.91,210.87 L197.65,210.51 L198.38,210.14 L199.12,209.77 L199.86,209.39 L200.60,209.02 L201.34,208.64 L202.08,208.25 L202.82,207.85 L203.55,207.44 L204.29,207.02 L205.03,206.57 L205.77,206.10 L206.51,205.62 L207.25,205.14 L207.99,204.64 L208.72,204.11 L209.46,203.57 L210.20,202.99 L210.94,202.37 L211.68,201.71 L212.42,201.00 L213.16,200.23 L213.89,199.38 L214.63,198.43 L215.37,197.38 L216.11,196.25 L216.85,195.04 L217.59,193.75 L218.32,192.39 L219.06,190.97 L219.80,189.50 L220.54,187.98 L221.28,186.42 L222.02,184.82 L222.76,183.19 L223.49,181.55 L224.23,179.88 L224.97,178.21 L225.71,176.46 L226.45,174.55 L227.19,172.54 L227.93,170.43 L228.66,168.27 L229.40,166.09 L230.14,163.90 L230.88,161.75 L231.62,159.66 L232.36,157.66 L233.09,155.73 L233.83,153.83 L234.57,151.95 L235.31,150.10 L236.05,148.26 L236.79,146.44 L237.53,144.63 L238.26,142.83 L239.00,141.03 L239.74,139.23 L240.48,137.43 L241.22,135.62 L241.96,133.80 L242.69,131.97 L243.43,130.14 L244.17,128.34 L244.91,126.56 L245.65,124.79 L246.39,123.03 L247.13,121.26 L247.86,119.50 L248.60,117.72 L249.34,115.92 L250.08,114.10 L250.82,112.25 L251.56,110.36 L252.30,108.44 L253.03,106.46 L253.77,104.43 L254.51,102.34 L255.25,100.09 L255.99,97.71 L256.73,95.30 L257.47,92.92 L258.20,90.65 L258.94,88.46 L259.68,86.32 L260.42,84.22 L261.16,82.14 L261.90,80.09 L262.63,78.06 L263.37,76.05 L264.11,74.07 L264.85,72.13 L265.59,70.23 L266.33,68.33 L267.07,66.40 L267.80,64.42 L268.54,62.28 L269.28,60.02 L270.02,57.75 L270.76,55.59 L271.50,53.65 L272.24,52.02 L272.97,50.69 L273.71,49.45 L274.45,48.35 L275.19,47.46 L275.93,46.83 L276.67,46.36 L277.40,45.94 L278.14,45.62 L278.88,45.45 L279.62,45.50 L280.36,45.89 L281.10,46.49 L281.84,47.19 L282.57,48.08 L283.31,49.29 L284.05,50.76 L284.79,52.46 L285.53,54.59 L286.27,57.14 L287.00,60.07 L287.74,63.31 L288.48,67.02 L289.22,71.79 L289.96,76.26 L290.70,80.09 L291.44,83.67 L292.17,87.20 L292.91,90.87 L293.65,94.69 L294.39,98.59 L295.13,102.57 L295.87,106.68 L296.61,110.95 L297.34,115.35 L298.08,119.83 L298.82,124.37 L299.56,128.92 L300.30,133.45 L301.04,137.92 L301.78,142.30 L302.51,146.55 L303.25,150.63 L303.99,154.51 L304.73,158.14 L305.47,161.53 L306.21,164.83 L306.94,168.05 L307.68,171.18 L308.42,174.23 L309.16,177.19 L309.90,180.05 L310.64,182.81 L311.38,185.45 L312.11,187.98 L312.85,190.38 L313.59,192.66 L314.33,194.80 L315.07,196.84 L315.81,198.80 L316.55,200.69 L317.28,202.50 L318.02,204.24 L318.76,205.90 L319.50,207.49 L320.24,209.00 L320.98,210.43 L321.71,211.79 L322.45,213.08 L323.19,214.30 L323.93,215.47 L324.67,216.61 L325.41,217.70 L326.15,218.75 L326.88,219.77 L327.62,220.75 L328.36,221.70 L329.10,222.62 L329.84,223.52 L330.58,224.39 L331.32,225.24 L332.05,226.07 L332.79,226.88 L333.53,227.68 L334.27,228.48 L335.01,229.29 L335.75,230.07 L336.48,230.80 L337.22,231.48 L337.96,232.06 L338.70,232.53 L339.44,232.92 L340.18,233.28 L340.92,233.61 L341.65,233.91 L342.39,234.19 L343.13,234.45 L343.87,234.69 L344.61,234.91 L345.35,235.12 L346.09,235.32 L346.82,235.50 L347.56,235.68 L348.30,235.84 L349.04,235.99 L349.78,236.13 L350.52,236.26 L351.25,236.38 L351.99,236.49 L352.73,236.60 L353.47,236.70 L354.21,236.80 L354.95,236.89 L355.69,236.99 L356.42,237.07 L357.16,237.16 L357.90,237.23 L358.64,237.31 L359.38,237.37 L360.12,237.43 L360.86,237.48 L361.59,237.52" fill="none" stroke="#2297E6" stroke-width="0.75" stroke-linejoin="round"/>
</g>
<rect x="35.0" y="37.6" width="338.9" height="208.8" fill="none" stroke="#8a8a8a" stroke-width="1"/>
<line x1="43.30" y1="246.4" x2="43.30" y2="251.70000000000002" stroke="#8a8a8a" stroke-width="1"/>
<text x="43.30" y="264.6" font-family="&quot;Liberation Sans&quot;, sans-serif" font-size="8.4" fill="#222222" text-anchor="middle">300</text>
<line x1="117.15" y1="246.4" x2="117.15" y2="251.70000000000002" stroke="#8a8a8a" stroke-width="1"/>
<text x="117.15" y="264.6" font-family="&quot;Liberation Sans&quot;, sans-serif" font-size="8.4" fill="#222222" text-anchor="middle">400</text>
<line x1="191.00" y1="246.4" x2="191.00" y2="251.70000000000002" stroke="#8a8a8a" stroke-width="1"/>
<text x="191.00" y="264.6" font-family="&quot;Liberation Sans&quot;, sans-serif" font-size="8.4" fill="#222222" text-anchor="middle">500</text>
<line x1="264.85" y1="246.4" x2="264.85" y2="251.70000000000002" stroke="#8a8a8a" stroke-width="1"/>
<text x="264.85" y="264.6" font-family="&quot;Liberation Sans&quot;, sans-serif" font-size="8.4" fill="#222222" text-anchor="middle">600</text>
<line x1="338.70" y1="246.4" x2="338.70" y2="251.70000000000002" stroke="#8a8a8a" stroke-width="1"/>
<text x="338.70" y="264.6" font-family="&quot;Liberation Sans&quot;, sans-serif" font-size="8.4" fill="#222222" text-anchor="middle">700</text>
<line x1="29.7" y1="238.40" x2="35.0" y2="238.40" stroke="#8a8a8a" stroke-width="1"/>
<text transform="translate(23.4,238.40) rotate(-90)" font-family="&quot;Liberation Sans&quot;, sans-serif" font-size="8.4" fill="#222222" text-anchor="middle">0.0</text>
<line x1="29.7" y1="201.70" x2="35.0" y2="201.70" stroke="#8a8a8a" stroke-width="1"/>
<text transform="translate(23.4,201.70) rotate(-90)" font-family="&quot;Liberation Sans&quot;, sans-serif" font-size="8.4" fill="#222222" text-anchor="middle">0.5</text>
<line x1="29.7" y1="165.00" x2="35.0" y2="165.00" stroke="#8a8a8a" stroke-width="1"/>
<text transform="translate(23.4,165.00) rotate(-90)" font-family="&quot;Liberation Sans&quot;, sans-serif" font-size="8.4" fill="#222222" text-anchor="middle">1.0</text>
<line x1="29.7" y1="128.30" x2="35.0" y2="128.30" stroke="#8a8a8a" stroke-width="1"/>
<text transform="translate(23.4,128.30) rotate(-90)" font-family="&quot;Liberation Sans&quot;, sans-serif" font-size="8.4" fill="#222222" text-anchor="middle">1.5</text>
<line x1="29.7" y1="91.60" x2="35.0" y2="91.60" stroke="#8a8a8a" stroke-width="1"/>
<text transform="translate(23.4,91.60) rotate(-90)" font-family="&quot;Liberation Sans&quot;, sans-serif" font-size="8.4" fill="#222222" text-anchor="middle">2.0</text>
<line x1="29.7" y1="54.90" x2="35.0" y2="54.90" stroke="#8a8a8a" stroke-width="1"/>
<text transform="translate(23.4,54.90) rotate(-90)" font-family="&quot;Liberation Sans&quot;, sans-serif" font-size="8.4" fill="#222222" text-anchor="middle">2.5</text>
<text x="198.4" y="277.8" font-family="&quot;Liberation Sans&quot;, sans-serif" font-size="11" fill="#222222" text-anchor="middle">Wavelength (nm)</text>
<text transform="translate(9.2,137.8) rotate(-90)" font-family="&quot;Liberation Sans&quot;, sans-serif" font-size="10.8" fill="#222222" text-anchor="middle">Absorbance</text>
<rect x="339.5" y="37.6" width="34.39999999999998" height="91.30000000000001" fill="#ffffff" stroke="#555555" stroke-width="0.9"/>
<line x1="344.1" y1="44.70" x2="355.1" y2="44.70" stroke="#000000" stroke-width="0.65"/>
<text x="359" y="46.60" font-family="&quot;Liberation Sans&quot;, sans-serif" font-size="5.3" fill="#222222">3.28</text>
<line x1="344.1" y1="51.72" x2="355.1" y2="51.72" stroke="#DF536B" stroke-width="0.65"/>
<text x="359" y="53.62" font-family="&quot;Liberation Sans&quot;, sans-serif" font-size="5.3" fill="#222222">3.51</text>
<line x1="344.1" y1="58.74" x2="355.1" y2="58.74" stroke="#61D04F" stroke-width="0.65"/>
<text x="359" y="60.64" font-family="&quot;Liberation Sans&quot;, sans-serif" font-size="5.3" fill="#222222">4.06</text>
<line x1="344.1" y1="65.76" x2="355.1" y2="65.76" stroke="#2297E6" stroke-width="0.65"/>
<text x="359" y="67.66" font-family="&quot;Liberation Sans&quot;, sans-serif" font-size="5.3" fill="#222222">4.43</text>
<line x1="344.1" y1="72.78" x2="355.1" y2="72.78" stroke="#28E2E5" stroke-width="0.65"/>
<text x="359" y="74.68" font-family="&quot;Liberation Sans&quot;, sans-serif" font-size="5.3" fill="#222222">4.64</text>
<line x1="344.1" y1="79.80" x2="355.1" y2="79.80" stroke="#CD0BBC" stroke-width="0.65"/>
<text x="359" y="81.70" font-family="&quot;Liberation Sans&quot;, sans-serif" font-size="5.3" fill="#222222">4.83</text>
<line x1="344.1" y1="86.82" x2="355.1" y2="86.82" stroke="#F5C710" stroke-width="0.65"/>
<text x="359" y="88.72" font-family="&quot;Liberation Sans&quot;, sans-serif" font-size="5.3" fill="#222222">5.18</text>
<line x1="344.1" y1="93.84" x2="355.1" y2="93.84" stroke="#9E9E9E" stroke-width="0.65"/>
<text x="359" y="95.74" font-family="&quot;Liberation Sans&quot;, sans-serif" font-size="5.3" fill="#222222">5.68</text>
<line x1="344.1" y1="100.86" x2="355.1" y2="100.86" stroke="#000000" stroke-width="0.65"/>
<text x="359" y="102.76" font-family="&quot;Liberation Sans&quot;, sans-serif" font-size="5.3" fill="#222222">6.07</text>
<line x1="344.1" y1="107.88" x2="355.1" y2="107.88" stroke="#DF536B" stroke-width="0.65"/>
<text x="359" y="109.78" font-family="&quot;Liberation Sans&quot;, sans-serif" font-size="5.3" fill="#222222">6.4</text>
<line x1="344.1" y1="114.90" x2="355.1" y2="114.90" stroke="#61D04F" stroke-width="0.65"/>
<text x="359" y="116.80" font-family="&quot;Liberation Sans&quot;, sans-serif" font-size="5.3" fill="#222222">6.84</text>
<line x1="344.1" y1="121.92" x2="355.1" y2="121.92" stroke="#2297E6" stroke-width="0.65"/>
<text x="359" y="123.82" font-family="&quot;Liberation Sans&quot;, sans-serif" font-size="5.3" fill="#222222">8.87</text>
<rect x="592.10" y="38.4" width="18.65" height="9.70" fill="#FFFF33"/>
<text x="601.27" y="44.95" font-family="&quot;DejaVu Sans&quot;, &quot;Liberation Sans&quot;, sans-serif" font-weight="bold" font-size="4.5" fill="#2a2a10" text-anchor="middle" textLength="7.3" lengthAdjust="spacingAndGlyphs">4.5</text>
<rect x="610.45" y="38.4" width="18.65" height="9.70" fill="#E8D840"/>
<text x="619.62" y="44.95" font-family="&quot;DejaVu Sans&quot;, &quot;Liberation Sans&quot;, sans-serif" font-weight="bold" font-size="4.5" fill="#2a2a10" text-anchor="middle" textLength="10.7" lengthAdjust="spacingAndGlyphs">4.99</text>
<rect x="628.80" y="38.4" width="18.65" height="9.70" fill="#D0B058"/>
<text x="637.97" y="44.95" font-family="&quot;DejaVu Sans&quot;, &quot;Liberation Sans&quot;, sans-serif" font-weight="bold" font-size="4.5" fill="#2a2a10" text-anchor="middle" textLength="10.7" lengthAdjust="spacingAndGlyphs">5.41</text>
<rect x="647.15" y="38.4" width="18.65" height="9.70" fill="#C8A060"/>
<text x="656.32" y="44.95" font-family="&quot;DejaVu Sans&quot;, &quot;Liberation Sans&quot;, sans-serif" font-weight="bold" font-size="4.5" fill="#2a2a10" text-anchor="middle" textLength="7.3" lengthAdjust="spacingAndGlyphs">5.7</text>
<rect x="665.50" y="38.4" width="18.65" height="9.70" fill="#B48878"/>
<text x="674.67" y="44.95" font-family="&quot;DejaVu Sans&quot;, &quot;Liberation Sans&quot;, sans-serif" font-weight="bold" font-size="4.5" fill="#2a2a10" text-anchor="middle" textLength="10.7" lengthAdjust="spacingAndGlyphs">5.96</text>
<rect x="683.85" y="38.4" width="18.65" height="9.70" fill="#A06890"/>
<text x="693.02" y="44.95" font-family="&quot;DejaVu Sans&quot;, &quot;Liberation Sans&quot;, sans-serif" font-weight="bold" font-size="4.5" fill="#2a2a10" text-anchor="middle" textLength="10.7" lengthAdjust="spacingAndGlyphs">6.21</text>
<rect x="702.20" y="38.4" width="18.65" height="9.70" fill="#9050A8"/>
<text x="711.38" y="44.95" font-family="&quot;DejaVu Sans&quot;, &quot;Liberation Sans&quot;, sans-serif" font-weight="bold" font-size="4.5" fill="#2a2a10" text-anchor="middle" textLength="10.7" lengthAdjust="spacingAndGlyphs">6.51</text>
<rect x="720.55" y="38.4" width="18.65" height="9.70" fill="#7B30B8"/>
<text x="729.72" y="44.95" font-family="&quot;DejaVu Sans&quot;, &quot;Liberation Sans&quot;, sans-serif" font-weight="bold" font-size="4.5" fill="#2a2a10" text-anchor="middle" textLength="10.7" lengthAdjust="spacingAndGlyphs">6.95</text>
<rect x="592.10" y="47.9" width="18.65" height="9.20" fill="#E0D848"/>
<text x="601.27" y="54.05" font-family="&quot;DejaVu Sans&quot;, &quot;Liberation Sans&quot;, sans-serif" font-weight="bold" font-size="4.5" fill="#2a2a10" text-anchor="middle" textLength="10.7" lengthAdjust="spacingAndGlyphs">3.51</text>
<rect x="610.45" y="47.9" width="18.65" height="9.20" fill="#A8C868"/>
<text x="619.62" y="54.05" font-family="&quot;DejaVu Sans&quot;, &quot;Liberation Sans&quot;, sans-serif" font-weight="bold" font-size="4.5" fill="#2a2a10" text-anchor="middle" textLength="10.7" lengthAdjust="spacingAndGlyphs">4.06</text>
<rect x="628.80" y="47.9" width="18.65" height="9.20" fill="#88C078"/>
<text x="637.97" y="54.05" font-family="&quot;DejaVu Sans&quot;, &quot;Liberation Sans&quot;, sans-serif" font-weight="bold" font-size="4.5" fill="#2a2a10" text-anchor="middle" textLength="10.7" lengthAdjust="spacingAndGlyphs">4.43</text>
<rect x="647.15" y="47.9" width="18.65" height="9.20" fill="#78B880"/>
<text x="656.32" y="54.05" font-family="&quot;DejaVu Sans&quot;, &quot;Liberation Sans&quot;, sans-serif" font-weight="bold" font-size="4.5" fill="#2a2a10" text-anchor="middle" textLength="10.7" lengthAdjust="spacingAndGlyphs">4.64</text>
<rect x="665.50" y="47.9" width="18.65" height="9.20" fill="#68B090"/>
<text x="674.67" y="54.05" font-family="&quot;DejaVu Sans&quot;, &quot;Liberation Sans&quot;, sans-serif" font-weight="bold" font-size="4.5" fill="#2a2a10" text-anchor="middle" textLength="10.7" lengthAdjust="spacingAndGlyphs">4.83</text>
<rect x="683.85" y="47.9" width="18.65" height="9.20" fill="#48A0A0"/>
<text x="693.02" y="54.05" font-family="&quot;DejaVu Sans&quot;, &quot;Liberation Sans&quot;, sans-serif" font-weight="bold" font-size="4.5" fill="#2a2a10" text-anchor="middle" textLength="10.7" lengthAdjust="spacingAndGlyphs">5.18</text>
<rect x="702.20" y="47.9" width="18.65" height="9.20" fill="#2888B8"/>
<text x="711.38" y="54.05" font-family="&quot;DejaVu Sans&quot;, &quot;Liberation Sans&quot;, sans-serif" font-weight="bold" font-size="4.5" fill="#2a2a10" text-anchor="middle" textLength="10.7" lengthAdjust="spacingAndGlyphs">5.68</text>
<rect x="720.55" y="47.9" width="18.65" height="9.20" fill="#1478C8"/>
<text x="729.72" y="54.05" font-family="&quot;DejaVu Sans&quot;, &quot;Liberation Sans&quot;, sans-serif" font-weight="bold" font-size="4.5" fill="#2a2a10" text-anchor="middle" textLength="10.7" lengthAdjust="spacingAndGlyphs">6.07</text>
<text x="742.9" y="44.85" font-family="&quot;DejaVu Sans&quot;, &quot;Liberation Sans&quot;, sans-serif" font-weight="bold" font-size="3.95" fill="#181818" stroke="#181818" stroke-width="0.12" textLength="30.4" lengthAdjust="spacingAndGlyphs">BCP: 5.2 - 6.8</text>
<text x="742.9" y="53.85" font-family="&quot;DejaVu Sans&quot;, &quot;Liberation Sans&quot;, sans-serif" font-weight="bold" font-size="3.95" fill="#181818" stroke="#181818" stroke-width="0.12" textLength="30.4" lengthAdjust="spacingAndGlyphs">BCG: 3.8 - 5.4</text>
<g clip-path="url(#cb)">
<line x1="486.4" y1="38.5" x2="776" y2="187.4" stroke="#FF2040" stroke-width="0.8" stroke-dasharray="2.4,2.3"/>
<line x1="429.3" y1="89.8" x2="774" y2="245.4" stroke="#3030FF" stroke-width="0.8" stroke-dasharray="2.4,2.3"/>
<line x1="498.5" y1="48.84" x2="545.4" y2="72.94" stroke="#9A30F0" stroke-width="1.25" stroke-linecap="round"/>
<line x1="545.4" y1="72.94" x2="582.1" y2="89.37" stroke="#9C38E0" stroke-width="1.25" stroke-linecap="round"/>
<line x1="582.1" y1="89.37" x2="625.6" y2="103.06" stroke="#A040C8" stroke-width="1.25" stroke-linecap="round"/>
<line x1="625.6" y1="103.06" x2="656.2" y2="117.30" stroke="#A86890" stroke-width="1.25" stroke-linecap="round"/>
<line x1="656.2" y1="117.30" x2="688.9" y2="133.18" stroke="#C89048" stroke-width="1.25" stroke-linecap="round"/>
<line x1="688.9" y1="133.18" x2="720.0" y2="156.19" stroke="#D8B020" stroke-width="1.25" stroke-linecap="round"/>
<line x1="720.0" y1="156.19" x2="729.5" y2="183.03" stroke="#F0D820" stroke-width="1.25" stroke-linecap="round"/>
<circle cx="498.5" cy="48.84" r="1.3" fill="#9A30F0"/>
<circle cx="545.4" cy="72.94" r="1.3" fill="#9C38E0"/>
<circle cx="582.1" cy="89.37" r="1.3" fill="#A040C8"/>
<circle cx="625.6" cy="103.06" r="1.3" fill="#B06078"/>
<circle cx="656.2" cy="117.30" r="1.3" fill="#D09050"/>
<circle cx="688.9" cy="133.18" r="1.3" fill="#D8B020"/>
<circle cx="720.0" cy="156.19" r="1.3" fill="#F0D010"/>
<circle cx="729.5" cy="183.03" r="1.3" fill="#FFEE00"/>
<line x1="445.1" y1="97.04" x2="503.7" y2="118.40" stroke="#2222E0" stroke-width="1.25" stroke-linecap="round"/>
<line x1="503.7" y1="118.40" x2="538.5" y2="145.78" stroke="#2424DD" stroke-width="1.25" stroke-linecap="round"/>
<line x1="538.5" y1="145.78" x2="584.6" y2="164.95" stroke="#3232C8" stroke-width="1.25" stroke-linecap="round"/>
<line x1="584.6" y1="164.95" x2="630.9" y2="175.36" stroke="#68686C" stroke-width="1.25" stroke-linecap="round"/>
<line x1="630.9" y1="175.36" x2="653.1" y2="186.86" stroke="#909048" stroke-width="1.25" stroke-linecap="round"/>
<line x1="653.1" y1="186.86" x2="704.0" y2="207.12" stroke="#B4B430" stroke-width="1.25" stroke-linecap="round"/>
<line x1="704.0" y1="207.12" x2="737.0" y2="237.25" stroke="#CCCC20" stroke-width="1.25" stroke-linecap="round"/>
<circle cx="445.1" cy="97.04" r="1.3" fill="#2020F0"/>
<circle cx="503.7" cy="118.40" r="1.3" fill="#2828D8"/>
<circle cx="538.5" cy="145.78" r="1.3" fill="#3838B8"/>
<circle cx="584.6" cy="164.95" r="1.3" fill="#585888"/>
<circle cx="630.9" cy="175.36" r="1.3" fill="#808058"/>
<circle cx="653.1" cy="186.86" r="1.3" fill="#A8A838"/>
<circle cx="704.0" cy="207.12" r="1.3" fill="#D8D820"/>
<circle cx="737.0" cy="237.25" r="1.3" fill="#FFFF00"/>
</g>
<rect x="429.3" y="38.4" width="346.59999999999997" height="207.0" fill="none" stroke="#3c3c3c" stroke-width="1"/>
<line x1="454.55" y1="245.4" x2="454.55" y2="249.0" stroke="#3c3c3c" stroke-width="0.9"/>
<text transform="translate(454.55,259.95) scale(1.12,1)" font-family="&quot;Liberation Sans&quot;, sans-serif" font-size="8.4" fill="#222222" text-anchor="middle">2.5</text>
<line x1="516.30" y1="245.4" x2="516.30" y2="249.0" stroke="#3c3c3c" stroke-width="0.9"/>
<text transform="translate(516.30,259.95) scale(1.12,1)" font-family="&quot;Liberation Sans&quot;, sans-serif" font-size="8.4" fill="#222222" text-anchor="middle">2.0</text>
<line x1="578.05" y1="245.4" x2="578.05" y2="249.0" stroke="#3c3c3c" stroke-width="0.9"/>
<text transform="translate(578.05,259.95) scale(1.12,1)" font-family="&quot;Liberation Sans&quot;, sans-serif" font-size="8.4" fill="#222222" text-anchor="middle">1.5</text>
<line x1="639.80" y1="245.4" x2="639.80" y2="249.0" stroke="#3c3c3c" stroke-width="0.9"/>
<text transform="translate(639.80,259.95) scale(1.12,1)" font-family="&quot;Liberation Sans&quot;, sans-serif" font-size="8.4" fill="#222222" text-anchor="middle">1.0</text>
<line x1="701.55" y1="245.4" x2="701.55" y2="249.0" stroke="#3c3c3c" stroke-width="0.9"/>
<text transform="translate(701.55,259.95) scale(1.12,1)" font-family="&quot;Liberation Sans&quot;, sans-serif" font-size="8.4" fill="#222222" text-anchor="middle">0.5</text>
<line x1="763.30" y1="245.4" x2="763.30" y2="249.0" stroke="#3c3c3c" stroke-width="0.9"/>
<text transform="translate(763.30,259.95) scale(1.12,1)" font-family="&quot;Liberation Sans&quot;, sans-serif" font-size="8.4" fill="#222222" text-anchor="middle">0.0</text>
<line x1="425.3" y1="237.80" x2="429.3" y2="237.80" stroke="#3c3c3c" stroke-width="0.9"/>
<text transform="translate(418.6,237.80) scale(1.12,1) rotate(-90)" font-family="&quot;Liberation Sans&quot;, sans-serif" font-size="8.8" fill="#222222" text-anchor="middle">3.5</text>
<line x1="425.3" y1="210.41" x2="429.3" y2="210.41" stroke="#3c3c3c" stroke-width="0.9"/>
<text transform="translate(418.6,210.41) scale(1.12,1) rotate(-90)" font-family="&quot;Liberation Sans&quot;, sans-serif" font-size="8.8" fill="#222222" text-anchor="middle">4.0</text>
<line x1="425.3" y1="183.03" x2="429.3" y2="183.03" stroke="#3c3c3c" stroke-width="0.9"/>
<text transform="translate(418.6,183.03) scale(1.12,1) rotate(-90)" font-family="&quot;Liberation Sans&quot;, sans-serif" font-size="8.8" fill="#222222" text-anchor="middle">4.5</text>
<line x1="425.3" y1="155.64" x2="429.3" y2="155.64" stroke="#3c3c3c" stroke-width="0.9"/>
<text transform="translate(418.6,155.64) scale(1.12,1) rotate(-90)" font-family="&quot;Liberation Sans&quot;, sans-serif" font-size="8.8" fill="#222222" text-anchor="middle">5.0</text>
<line x1="425.3" y1="128.25" x2="429.3" y2="128.25" stroke="#3c3c3c" stroke-width="0.9"/>
<text transform="translate(418.6,128.25) scale(1.12,1) rotate(-90)" font-family="&quot;Liberation Sans&quot;, sans-serif" font-size="8.8" fill="#222222" text-anchor="middle">5.5</text>
<line x1="425.3" y1="100.87" x2="429.3" y2="100.87" stroke="#3c3c3c" stroke-width="0.9"/>
<text transform="translate(418.6,100.87) scale(1.12,1) rotate(-90)" font-family="&quot;Liberation Sans&quot;, sans-serif" font-size="8.8" fill="#222222" text-anchor="middle">6.0</text>
<line x1="425.3" y1="73.48" x2="429.3" y2="73.48" stroke="#3c3c3c" stroke-width="0.9"/>
<text transform="translate(418.6,73.48) scale(1.12,1) rotate(-90)" font-family="&quot;Liberation Sans&quot;, sans-serif" font-size="8.8" fill="#222222" text-anchor="middle">6.5</text>
<line x1="425.3" y1="46.10" x2="429.3" y2="46.10" stroke="#3c3c3c" stroke-width="0.9"/>
<text transform="translate(418.6,46.10) scale(1.12,1) rotate(-90)" font-family="&quot;Liberation Sans&quot;, sans-serif" font-size="8.8" fill="#222222" text-anchor="middle">7.0</text>
<text x="608.2" y="278" font-family="&quot;Liberation Sans&quot;, sans-serif" font-size="11" fill="#222222" text-anchor="middle">Absorbance</text>
<text transform="translate(405.6,138.2) rotate(-90)" font-family="&quot;Liberation Sans&quot;, sans-serif" font-size="10.4" fill="#222222" text-anchor="middle">pH</text>
<text x="590.8" y="134.1" font-family="&quot;Liberation Sans&quot;, sans-serif" font-size="8.7" fill="#FF2020" textLength="64.9" lengthAdjust="spacingAndGlyphs">y = 1.16x + 4.53</text>
<text x="590.8" y="143.3" font-family="&quot;Liberation Sans&quot;, sans-serif" font-size="9.05" fill="#FF2020">R<tspan font-size="5.4" dy="-3.2">2</tspan><tspan dy="3.2"> = 0.953</tspan></text>
<text x="567.2" y="193.4" font-family="&quot;Liberation Sans&quot;, sans-serif" font-size="8.7" fill="#2828FF" textLength="63.2" lengthAdjust="spacingAndGlyphs">y = 1.02x + 3.45</text>
<text x="567.2" y="202.7" font-family="&quot;Liberation Sans&quot;, sans-serif" font-size="9.05" fill="#2828FF">R<tspan font-size="5.4" dy="-3.2">2</tspan><tspan dy="3.2"> = 0.982</tspan></text>
</svg>
</body></html>
